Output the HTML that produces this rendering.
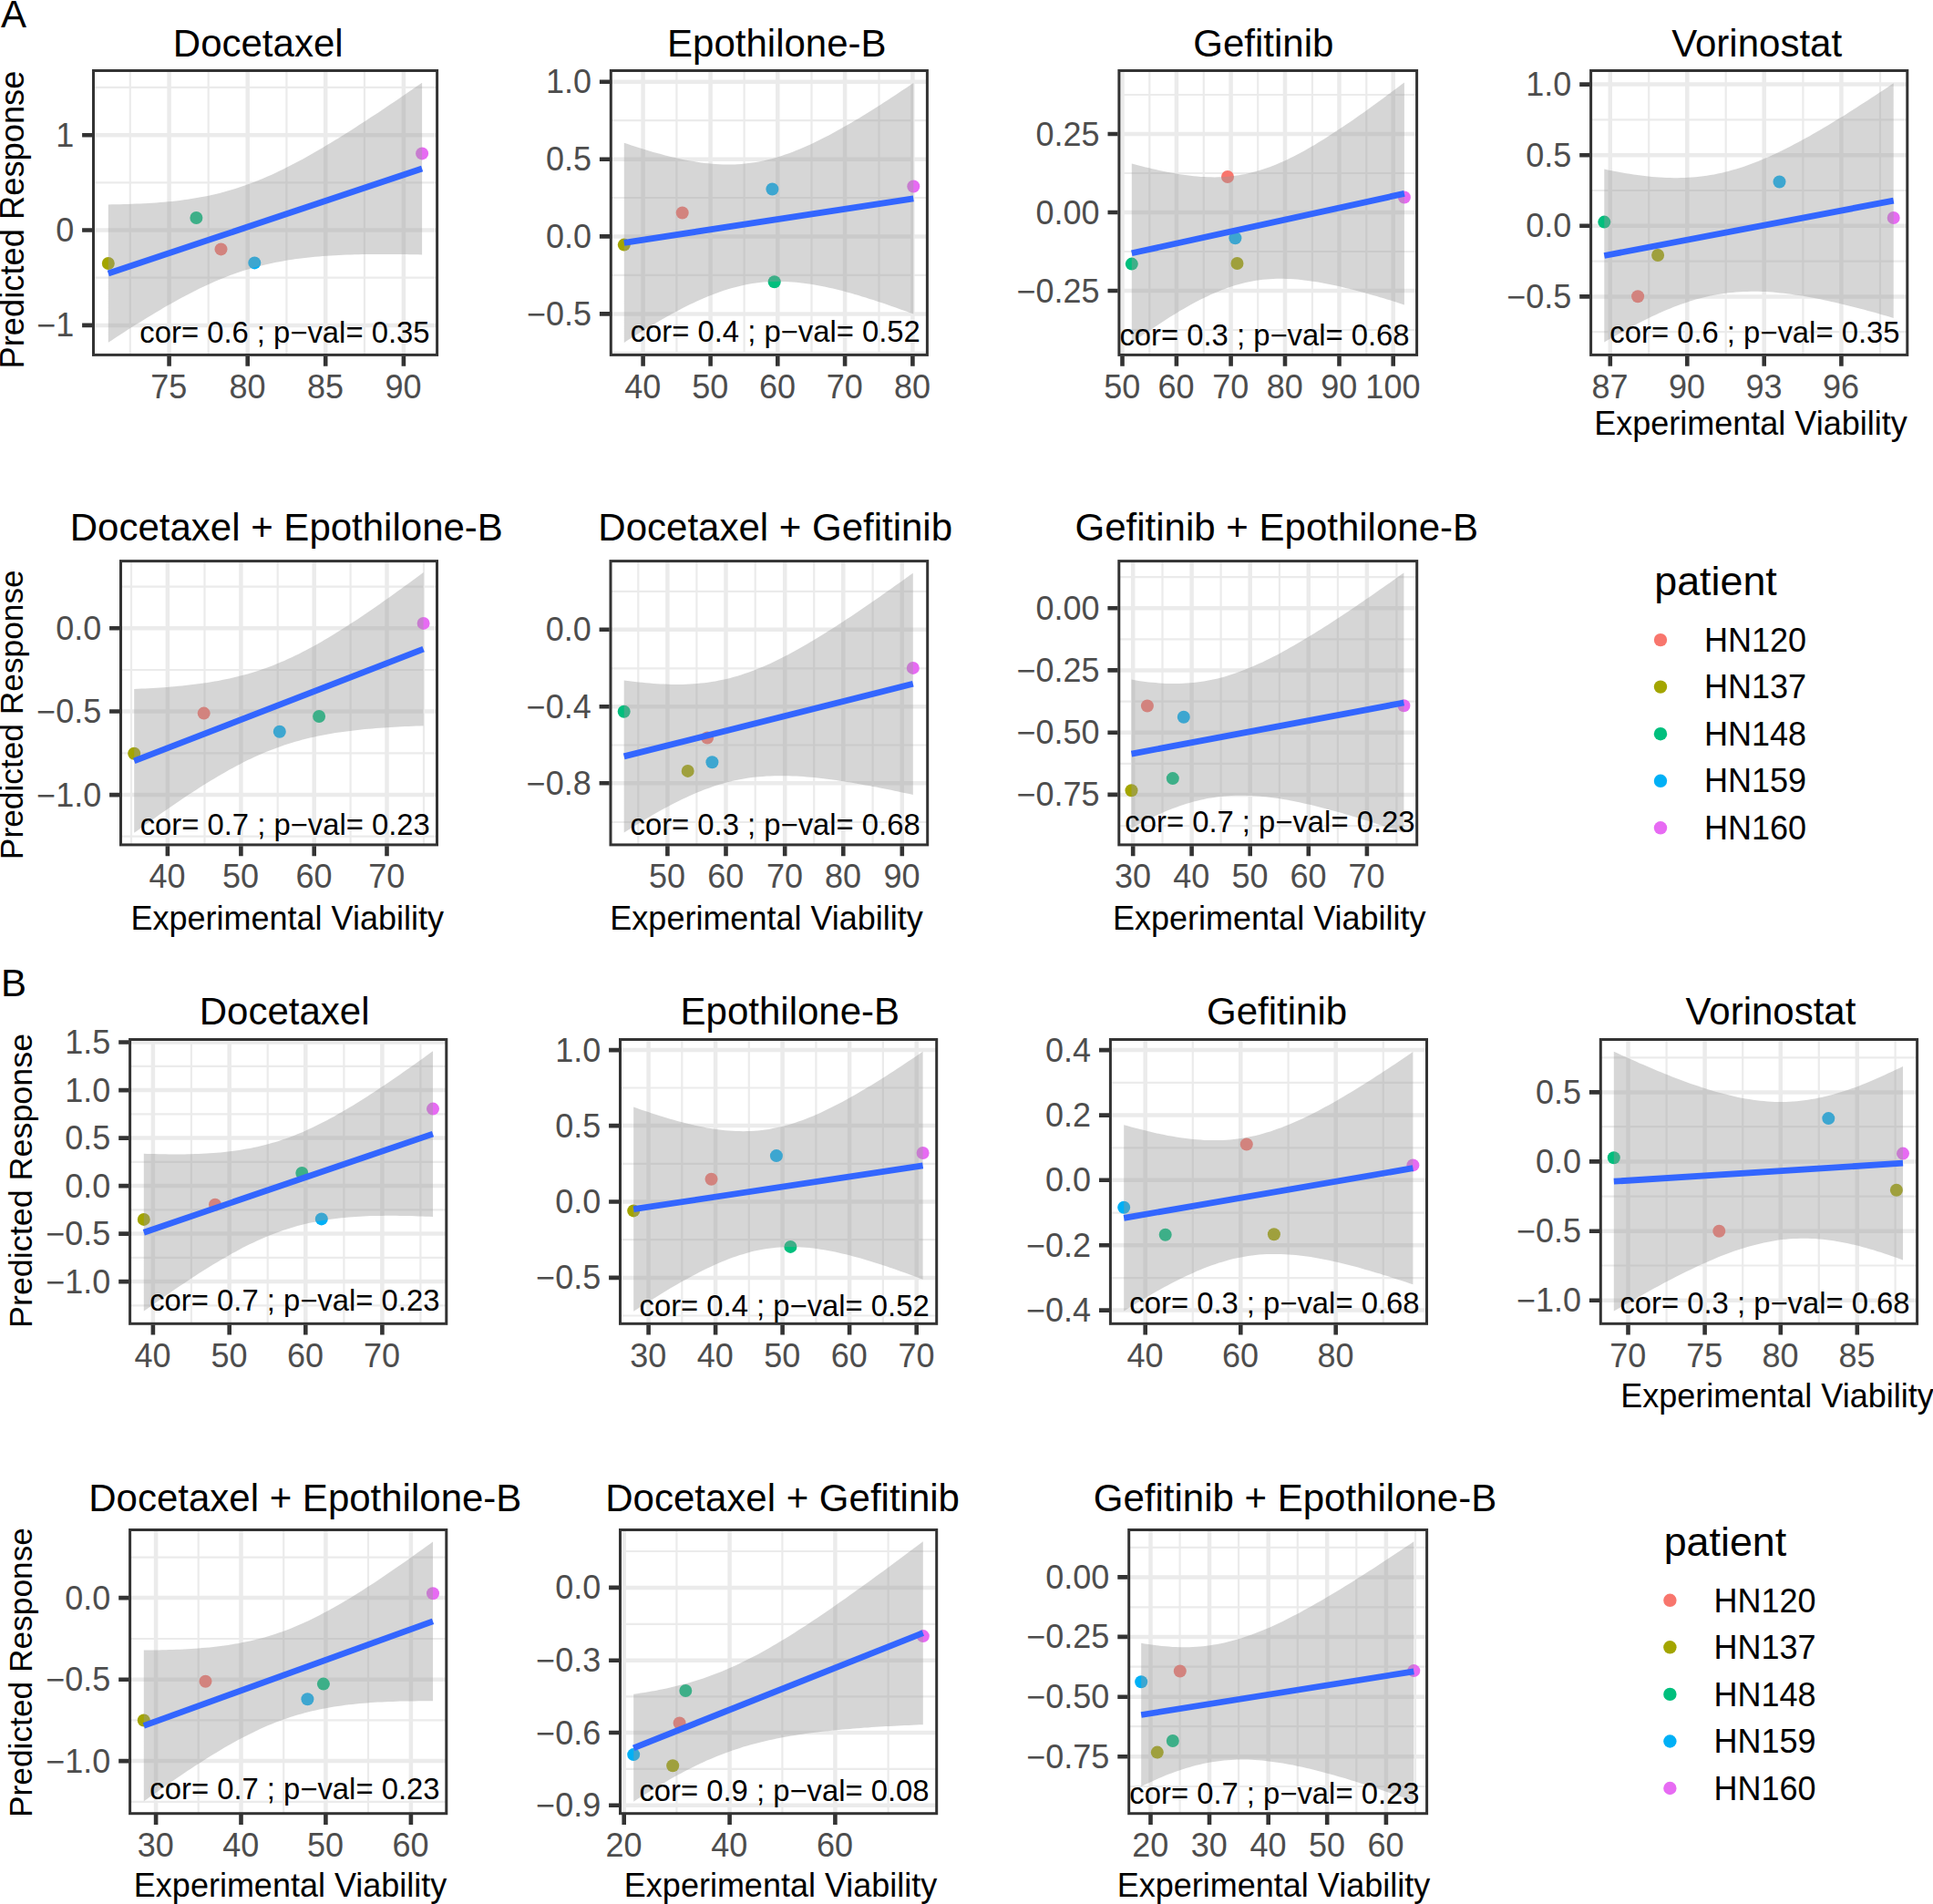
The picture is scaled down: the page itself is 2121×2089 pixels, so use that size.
<!DOCTYPE html><html><head><meta charset="utf-8"><title>Figure</title><style>html,body{margin:0;padding:0;background:#fff}svg{display:block}</style></head><body><svg width="2121" height="2089" viewBox="0 0 2121 2089" font-family="'Liberation Sans', sans-serif">
<rect width="2121" height="2089" fill="#fff"/>
<clipPath id="c0"><rect x="102.5" y="77.5" width="377.1" height="311.9"/></clipPath>
<g clip-path="url(#c0)"><path d="M142.8 77.5V389.4M228.7 77.5V389.4M314.4 77.5V389.4M399.9 77.5V389.4M102.5 95.9H479.6M102.5 200.3H479.6M102.5 304.7H479.6" stroke="#ebebeb" stroke-width="2.2" fill="none"/><path d="M185.6 77.5V389.4M271.7 77.5V389.4M357.2 77.5V389.4M442.9 77.5V389.4M102.5 148.2H479.6M102.5 252.5H479.6M102.5 356.9H479.6" stroke="#ebebeb" stroke-width="4.5" fill="none"/><circle cx="118.8" cy="289.0" r="7" fill="#A3A500"/><circle cx="215.4" cy="239.0" r="7" fill="#00BF7D"/><circle cx="242.5" cy="273.4" r="7" fill="#F8766D"/><circle cx="279.3" cy="288.4" r="7" fill="#00B0F6"/><circle cx="463.1" cy="168.4" r="7" fill="#E76BF3"/><path d="M118.8 224.4 L123.2 224.3 L127.5 224.2 L131.9 224.2 L136.2 224.1 L140.6 223.9 L144.9 223.8 L149.3 223.6 L153.7 223.4 L158.0 223.2 L162.4 223.0 L166.7 222.7 L171.1 222.4 L175.5 222.1 L179.8 221.7 L184.2 221.3 L188.5 220.9 L192.9 220.4 L197.2 219.9 L201.6 219.3 L206.0 218.7 L210.3 218.0 L214.7 217.3 L219.0 216.6 L223.4 215.7 L227.8 214.9 L232.1 213.9 L236.5 212.9 L240.8 211.9 L245.2 210.7 L249.5 209.5 L253.9 208.3 L258.3 206.9 L262.6 205.5 L267.0 204.1 L271.3 202.5 L275.7 200.9 L280.1 199.2 L284.4 197.5 L288.8 195.7 L293.1 193.8 L297.5 191.9 L301.8 189.9 L306.2 187.8 L310.6 185.7 L314.9 183.5 L319.3 181.3 L323.6 179.0 L328.0 176.7 L332.4 174.4 L336.7 172.0 L341.1 169.5 L345.4 167.0 L349.8 164.5 L354.1 161.9 L358.5 159.3 L362.9 156.7 L367.2 154.1 L371.6 151.4 L375.9 148.7 L380.3 146.0 L384.7 143.2 L389.0 140.4 L393.4 137.6 L397.7 134.8 L402.1 132.0 L406.4 129.1 L410.8 126.3 L415.2 123.4 L419.5 120.5 L423.9 117.6 L428.2 114.6 L432.6 111.7 L437.0 108.7 L441.3 105.8 L445.7 102.8 L450.0 99.8 L454.4 96.8 L458.7 93.8 L463.1 90.8 L463.1 279.4 L458.7 279.3 L454.4 279.3 L450.0 279.2 L445.7 279.1 L441.3 279.0 L437.0 279.0 L432.6 278.9 L428.2 278.9 L423.9 278.9 L419.5 278.9 L415.2 278.9 L410.8 278.9 L406.4 279.0 L402.1 279.0 L397.7 279.1 L393.4 279.2 L389.0 279.3 L384.7 279.4 L380.3 279.6 L375.9 279.8 L371.6 280.0 L367.2 280.2 L362.9 280.4 L358.5 280.7 L354.1 281.0 L349.8 281.4 L345.4 281.8 L341.1 282.2 L336.7 282.7 L332.4 283.2 L328.0 283.7 L323.6 284.3 L319.3 284.9 L314.9 285.6 L310.6 286.4 L306.2 287.2 L301.8 288.0 L297.5 288.9 L293.1 289.9 L288.8 290.9 L284.4 292.0 L280.1 293.2 L275.7 294.4 L271.3 295.7 L267.0 297.1 L262.6 298.6 L258.3 300.1 L253.9 301.6 L249.5 303.3 L245.2 305.0 L240.8 306.8 L236.5 308.6 L232.1 310.5 L227.8 312.5 L223.4 314.5 L219.0 316.6 L214.7 318.8 L210.3 321.0 L206.0 323.2 L201.6 325.5 L197.2 327.8 L192.9 330.2 L188.5 332.7 L184.2 335.1 L179.8 337.6 L175.5 340.2 L171.1 342.8 L166.7 345.4 L162.4 348.0 L158.0 350.7 L153.7 353.4 L149.3 356.1 L144.9 358.8 L140.6 361.6 L136.2 364.4 L131.9 367.2 L127.5 370.0 L123.2 372.9 L118.8 375.7Z" fill="#999" fill-opacity="0.4"/><path d="M118.8 300.0L463.1 185.1" stroke="#3366FF" stroke-width="6.8" fill="none"/></g>
<text x="471.5" y="375.8" font-size="32.8" text-anchor="end" fill="#000">cor= 0.6 ; p−val= 0.35</text>
<rect x="102.5" y="77.5" width="377.1" height="311.9" fill="none" stroke="#333" stroke-width="3"/>
<path d="M185.6 390.7V401.7M271.7 390.7V401.7M357.2 390.7V401.7M442.9 390.7V401.7M101.2 148.2H90.1M101.2 252.5H90.1M101.2 356.9H90.1" stroke="#333" stroke-width="4.6" fill="none"/>
<text x="185.3" y="436.6" font-size="36" text-anchor="middle" fill="#4d4d4d">75</text>
<text x="271.4" y="436.6" font-size="36" text-anchor="middle" fill="#4d4d4d">80</text>
<text x="356.9" y="436.6" font-size="36" text-anchor="middle" fill="#4d4d4d">85</text>
<text x="442.6" y="436.6" font-size="36" text-anchor="middle" fill="#4d4d4d">90</text>
<text x="81.2" y="160.7" font-size="36" text-anchor="end" fill="#4d4d4d">1</text>
<text x="81.2" y="265.0" font-size="36" text-anchor="end" fill="#4d4d4d">0</text>
<text x="81.2" y="369.4" font-size="36" text-anchor="end" fill="#4d4d4d">−1</text>
<text x="283.2" y="62" font-size="42.0" text-anchor="middle" fill="#000">Docetaxel</text>
<clipPath id="c1"><rect x="670.3" y="77.5" width="347.1" height="311.9"/></clipPath>
<g clip-path="url(#c1)"><path d="M742.4 77.5V389.4M816.6 77.5V389.4M890.5 77.5V389.4M964.5 77.5V389.4M670.3 132.2H1017.4M670.3 217.0H1017.4M670.3 301.9H1017.4M670.3 386.8H1017.4" stroke="#ebebeb" stroke-width="2.2" fill="none"/><path d="M705.6 77.5V389.4M779.6 77.5V389.4M853.3 77.5V389.4M927.1 77.5V389.4M1001.4 77.5V389.4M670.3 89.7H1017.4M670.3 174.7H1017.4M670.3 259.4H1017.4M670.3 344.4H1017.4" stroke="#ebebeb" stroke-width="4.5" fill="none"/><circle cx="684.8" cy="268.6" r="7" fill="#A3A500"/><circle cx="748.7" cy="233.5" r="7" fill="#F8766D"/><circle cx="847.4" cy="207.5" r="7" fill="#00B0F6"/><circle cx="849.7" cy="309.2" r="7" fill="#00BF7D"/><circle cx="1002.3" cy="204.5" r="7" fill="#E76BF3"/><path d="M684.8 156.8 L688.8 158.1 L692.8 159.5 L696.9 160.8 L700.9 162.0 L704.9 163.3 L708.9 164.5 L712.9 165.7 L717.0 166.9 L721.0 168.0 L725.0 169.1 L729.0 170.2 L733.0 171.2 L737.0 172.2 L741.1 173.1 L745.1 174.0 L749.1 174.9 L753.1 175.7 L757.1 176.4 L761.2 177.1 L765.2 177.8 L769.2 178.4 L773.2 178.9 L777.2 179.3 L781.3 179.7 L785.3 180.0 L789.3 180.2 L793.3 180.4 L797.3 180.5 L801.4 180.5 L805.4 180.4 L809.4 180.2 L813.4 179.9 L817.4 179.6 L821.4 179.1 L825.5 178.6 L829.5 177.9 L833.5 177.2 L837.5 176.4 L841.5 175.5 L845.6 174.5 L849.6 173.4 L853.6 172.2 L857.6 171.0 L861.6 169.6 L865.7 168.2 L869.7 166.7 L873.7 165.1 L877.7 163.5 L881.7 161.8 L885.7 160.0 L889.8 158.2 L893.8 156.3 L897.8 154.3 L901.8 152.3 L905.8 150.3 L909.9 148.2 L913.9 146.0 L917.9 143.8 L921.9 141.6 L925.9 139.3 L930.0 137.0 L934.0 134.7 L938.0 132.3 L942.0 129.9 L946.0 127.5 L950.1 125.0 L954.1 122.5 L958.1 120.0 L962.1 117.5 L966.1 114.9 L970.1 112.3 L974.2 109.7 L978.2 107.1 L982.2 104.5 L986.2 101.8 L990.2 99.1 L994.3 96.4 L998.3 93.7 L1002.3 91.0 L1002.3 344.6 L998.3 343.1 L994.3 341.6 L990.2 340.2 L986.2 338.7 L982.2 337.3 L978.2 335.9 L974.2 334.5 L970.1 333.1 L966.1 331.8 L962.1 330.4 L958.1 329.1 L954.1 327.9 L950.1 326.6 L946.0 325.4 L942.0 324.1 L938.0 323.0 L934.0 321.8 L930.0 320.7 L925.9 319.6 L921.9 318.6 L917.9 317.6 L913.9 316.6 L909.9 315.7 L905.8 314.8 L901.8 314.0 L897.8 313.2 L893.8 312.5 L889.8 311.8 L885.7 311.2 L881.7 310.7 L877.7 310.2 L873.7 309.8 L869.7 309.4 L865.7 309.2 L861.6 309.0 L857.6 308.9 L853.6 308.8 L849.6 308.9 L845.6 309.0 L841.5 309.3 L837.5 309.6 L833.5 310.0 L829.5 310.5 L825.5 311.1 L821.4 311.8 L817.4 312.6 L813.4 313.4 L809.4 314.4 L805.4 315.4 L801.4 316.6 L797.3 317.8 L793.3 319.1 L789.3 320.5 L785.3 321.9 L781.3 323.5 L777.2 325.1 L773.2 326.8 L769.2 328.5 L765.2 330.3 L761.2 332.2 L757.1 334.1 L753.1 336.1 L749.1 338.1 L745.1 340.2 L741.1 342.3 L737.0 344.5 L733.0 346.7 L729.0 349.0 L725.0 351.3 L721.0 353.6 L717.0 356.0 L712.9 358.3 L708.9 360.8 L704.9 363.2 L700.9 365.7 L696.9 368.2 L692.8 370.7 L688.8 373.3 L684.8 375.9Z" fill="#999" fill-opacity="0.4"/><path d="M684.8 266.3L1002.3 217.8" stroke="#3366FF" stroke-width="6.8" fill="none"/></g>
<text x="1009.8" y="374.7" font-size="32.8" text-anchor="end" fill="#000">cor= 0.4 ; p−val= 0.52</text>
<rect x="670.3" y="77.5" width="347.1" height="311.9" fill="none" stroke="#333" stroke-width="3"/>
<path d="M705.6 390.7V401.7M779.6 390.7V401.7M853.3 390.7V401.7M927.1 390.7V401.7M1001.4 390.7V401.7M669.0 89.7H657.9M669.0 174.7H657.9M669.0 259.4H657.9M669.0 344.4H657.9" stroke="#333" stroke-width="4.6" fill="none"/>
<text x="705.3" y="436.6" font-size="36" text-anchor="middle" fill="#4d4d4d">40</text>
<text x="779.3" y="436.6" font-size="36" text-anchor="middle" fill="#4d4d4d">50</text>
<text x="853.0" y="436.6" font-size="36" text-anchor="middle" fill="#4d4d4d">60</text>
<text x="926.8" y="436.6" font-size="36" text-anchor="middle" fill="#4d4d4d">70</text>
<text x="1001.1" y="436.6" font-size="36" text-anchor="middle" fill="#4d4d4d">80</text>
<text x="649.0" y="102.2" font-size="36" text-anchor="end" fill="#4d4d4d">1.0</text>
<text x="649.0" y="187.2" font-size="36" text-anchor="end" fill="#4d4d4d">0.5</text>
<text x="649.0" y="271.9" font-size="36" text-anchor="end" fill="#4d4d4d">0.0</text>
<text x="649.0" y="356.9" font-size="36" text-anchor="end" fill="#4d4d4d">−0.5</text>
<text x="852.3" y="62" font-size="42.0" text-anchor="middle" fill="#000">Epothilone-B</text>
<clipPath id="c2"><rect x="1227.9" y="77.5" width="326.7" height="311.9"/></clipPath>
<g clip-path="url(#c2)"><path d="M1261.3 77.5V389.4M1320.8 77.5V389.4M1380.2 77.5V389.4M1439.9 77.5V389.4M1499.3 77.5V389.4M1227.9 104.0H1554.6M1227.9 190.0H1554.6M1227.9 276.0H1554.6M1227.9 362.0H1554.6" stroke="#ebebeb" stroke-width="2.2" fill="none"/><path d="M1231.5 77.5V389.4M1290.9 77.5V389.4M1350.6 77.5V389.4M1410.0 77.5V389.4M1469.5 77.5V389.4M1528.7 77.5V389.4M1227.9 147.0H1554.6M1227.9 233.0H1554.6M1227.9 319.0H1554.6" stroke="#ebebeb" stroke-width="4.5" fill="none"/><circle cx="1241.8" cy="289.6" r="7" fill="#00BF7D"/><circle cx="1347.0" cy="194.0" r="7" fill="#F8766D"/><circle cx="1355.4" cy="261.3" r="7" fill="#00B0F6"/><circle cx="1357.5" cy="289.0" r="7" fill="#A3A500"/><circle cx="1540.9" cy="216.5" r="7" fill="#E76BF3"/><path d="M1241.8 179.4 L1245.6 180.5 L1249.4 181.5 L1253.2 182.4 L1256.9 183.4 L1260.7 184.3 L1264.5 185.2 L1268.3 186.1 L1272.1 186.9 L1275.9 187.7 L1279.7 188.5 L1283.4 189.3 L1287.2 190.0 L1291.0 190.6 L1294.8 191.2 L1298.6 191.8 L1302.4 192.3 L1306.2 192.8 L1309.9 193.2 L1313.7 193.6 L1317.5 193.9 L1321.3 194.1 L1325.1 194.2 L1328.9 194.3 L1332.7 194.4 L1336.5 194.3 L1340.2 194.2 L1344.0 194.0 L1347.8 193.7 L1351.6 193.3 L1355.4 192.8 L1359.2 192.3 L1363.0 191.6 L1366.7 190.9 L1370.5 190.1 L1374.3 189.1 L1378.1 188.1 L1381.9 187.0 L1385.7 185.8 L1389.5 184.6 L1393.2 183.2 L1397.0 181.7 L1400.8 180.2 L1404.6 178.6 L1408.4 176.9 L1412.2 175.2 L1416.0 173.3 L1419.7 171.5 L1423.5 169.5 L1427.3 167.5 L1431.1 165.4 L1434.9 163.3 L1438.7 161.1 L1442.5 158.9 L1446.2 156.6 L1450.0 154.3 L1453.8 151.9 L1457.6 149.5 L1461.4 147.1 L1465.2 144.6 L1469.0 142.1 L1472.8 139.6 L1476.5 137.1 L1480.3 134.5 L1484.1 131.9 L1487.9 129.2 L1491.7 126.6 L1495.5 123.9 L1499.3 121.2 L1503.0 118.5 L1506.8 115.8 L1510.6 113.0 L1514.4 110.2 L1518.2 107.4 L1522.0 104.6 L1525.8 101.8 L1529.5 99.0 L1533.3 96.2 L1537.1 93.3 L1540.9 90.5 L1540.9 334.4 L1537.1 333.2 L1533.3 332.0 L1529.5 330.8 L1525.8 329.6 L1522.0 328.5 L1518.2 327.3 L1514.4 326.2 L1510.6 325.1 L1506.8 324.0 L1503.0 322.9 L1499.3 321.8 L1495.5 320.8 L1491.7 319.8 L1487.9 318.8 L1484.1 317.8 L1480.3 316.8 L1476.5 315.9 L1472.8 315.0 L1469.0 314.1 L1465.2 313.3 L1461.4 312.5 L1457.6 311.7 L1453.8 311.0 L1450.0 310.2 L1446.2 309.6 L1442.5 309.0 L1438.7 308.4 L1434.9 307.9 L1431.1 307.4 L1427.3 307.0 L1423.5 306.6 L1419.7 306.3 L1416.0 306.1 L1412.2 305.9 L1408.4 305.8 L1404.6 305.8 L1400.8 305.8 L1397.0 306.0 L1393.2 306.2 L1389.5 306.5 L1385.7 306.8 L1381.9 307.3 L1378.1 307.8 L1374.3 308.5 L1370.5 309.2 L1366.7 310.0 L1363.0 311.0 L1359.2 312.0 L1355.4 313.1 L1351.6 314.2 L1347.8 315.5 L1344.0 316.9 L1340.2 318.3 L1336.5 319.9 L1332.7 321.5 L1328.9 323.1 L1325.1 324.9 L1321.3 326.7 L1317.5 328.6 L1313.7 330.5 L1309.9 332.6 L1306.2 334.6 L1302.4 336.7 L1298.6 338.9 L1294.8 341.1 L1291.0 343.4 L1287.2 345.7 L1283.4 348.1 L1279.7 350.5 L1275.9 352.9 L1272.1 355.4 L1268.3 357.9 L1264.5 360.4 L1260.7 362.9 L1256.9 365.5 L1253.2 368.1 L1249.4 370.8 L1245.6 373.4 L1241.8 376.1Z" fill="#999" fill-opacity="0.4"/><path d="M1241.8 277.8L1540.9 212.4" stroke="#3366FF" stroke-width="6.8" fill="none"/></g>
<text x="1546.6" y="378.5" font-size="32.8" text-anchor="end" fill="#000">cor= 0.3 ; p−val= 0.68</text>
<rect x="1227.9" y="77.5" width="326.7" height="311.9" fill="none" stroke="#333" stroke-width="3"/>
<path d="M1231.5 390.7V401.7M1290.9 390.7V401.7M1350.6 390.7V401.7M1410.0 390.7V401.7M1469.5 390.7V401.7M1528.7 390.7V401.7M1226.6000000000001 147.0H1215.5M1226.6000000000001 233.0H1215.5M1226.6000000000001 319.0H1215.5" stroke="#333" stroke-width="4.6" fill="none"/>
<text x="1231.2" y="436.6" font-size="36" text-anchor="middle" fill="#4d4d4d">50</text>
<text x="1290.6" y="436.6" font-size="36" text-anchor="middle" fill="#4d4d4d">60</text>
<text x="1350.3" y="436.6" font-size="36" text-anchor="middle" fill="#4d4d4d">70</text>
<text x="1409.7" y="436.6" font-size="36" text-anchor="middle" fill="#4d4d4d">80</text>
<text x="1469.2" y="436.6" font-size="36" text-anchor="middle" fill="#4d4d4d">90</text>
<text x="1528.4" y="436.6" font-size="36" text-anchor="middle" fill="#4d4d4d">100</text>
<text x="1206.6" y="159.5" font-size="36" text-anchor="end" fill="#4d4d4d">0.25</text>
<text x="1206.6" y="245.5" font-size="36" text-anchor="end" fill="#4d4d4d">0.00</text>
<text x="1206.6" y="331.5" font-size="36" text-anchor="end" fill="#4d4d4d">−0.25</text>
<text x="1386.3" y="62" font-size="42.0" text-anchor="middle" fill="#000">Gefitinib</text>
<clipPath id="c3"><rect x="1745.6" y="77.5" width="347.2" height="311.9"/></clipPath>
<g clip-path="url(#c3)"><path d="M1809.2 77.5V389.4M1893.7 77.5V389.4M1978.4 77.5V389.4M2063.0 77.5V389.4M1745.6 131.4H2092.8M1745.6 209.0H2092.8M1745.6 286.6H2092.8M1745.6 364.2H2092.8" stroke="#ebebeb" stroke-width="2.2" fill="none"/><path d="M1766.8 77.5V389.4M1851.3 77.5V389.4M1935.7 77.5V389.4M2020.4 77.5V389.4M1745.6 92.6H2092.8M1745.6 170.2H2092.8M1745.6 247.8H2092.8M1745.6 325.4H2092.8" stroke="#ebebeb" stroke-width="4.5" fill="none"/><circle cx="1760.3" cy="243.6" r="7" fill="#00BF7D"/><circle cx="1797.1" cy="325.3" r="7" fill="#F8766D"/><circle cx="1819.1" cy="280.0" r="7" fill="#A3A500"/><circle cx="1952.5" cy="199.5" r="7" fill="#00B0F6"/><circle cx="2077.7" cy="239.0" r="7" fill="#E76BF3"/><path d="M1760.3 185.6 L1764.3 186.4 L1768.3 187.2 L1772.4 188.0 L1776.4 188.8 L1780.4 189.5 L1784.4 190.2 L1788.4 190.8 L1792.4 191.4 L1796.5 192.0 L1800.5 192.6 L1804.5 193.1 L1808.5 193.5 L1812.5 193.9 L1816.5 194.3 L1820.6 194.6 L1824.6 194.8 L1828.6 195.0 L1832.6 195.1 L1836.6 195.2 L1840.7 195.2 L1844.7 195.1 L1848.7 195.0 L1852.7 194.8 L1856.7 194.5 L1860.7 194.2 L1864.8 193.8 L1868.8 193.3 L1872.8 192.7 L1876.8 192.1 L1880.8 191.4 L1884.8 190.6 L1888.9 189.7 L1892.9 188.8 L1896.9 187.7 L1900.9 186.6 L1904.9 185.5 L1909.0 184.2 L1913.0 182.9 L1917.0 181.5 L1921.0 180.1 L1925.0 178.5 L1929.0 177.0 L1933.1 175.3 L1937.1 173.6 L1941.1 171.9 L1945.1 170.0 L1949.1 168.2 L1953.2 166.3 L1957.2 164.3 L1961.2 162.3 L1965.2 160.2 L1969.2 158.1 L1973.2 156.0 L1977.3 153.8 L1981.3 151.6 L1985.3 149.4 L1989.3 147.1 L1993.3 144.8 L1997.3 142.4 L2001.4 140.1 L2005.4 137.7 L2009.4 135.3 L2013.4 132.8 L2017.4 130.3 L2021.5 127.9 L2025.5 125.4 L2029.5 122.8 L2033.5 120.3 L2037.5 117.7 L2041.5 115.1 L2045.6 112.6 L2049.6 109.9 L2053.6 107.3 L2057.6 104.7 L2061.6 102.0 L2065.6 99.4 L2069.7 96.7 L2073.7 94.0 L2077.7 91.3 L2077.7 348.9 L2073.7 347.7 L2069.7 346.5 L2065.6 345.4 L2061.6 344.2 L2057.6 343.1 L2053.6 342.0 L2049.6 340.9 L2045.6 339.8 L2041.5 338.8 L2037.5 337.7 L2033.5 336.7 L2029.5 335.7 L2025.5 334.7 L2021.5 333.7 L2017.4 332.8 L2013.4 331.8 L2009.4 330.9 L2005.4 330.0 L2001.4 329.2 L1997.3 328.3 L1993.3 327.5 L1989.3 326.8 L1985.3 326.0 L1981.3 325.3 L1977.3 324.6 L1973.2 324.0 L1969.2 323.4 L1965.2 322.8 L1961.2 322.3 L1957.2 321.8 L1953.2 321.4 L1949.1 321.0 L1945.1 320.6 L1941.1 320.3 L1937.1 320.1 L1933.1 319.9 L1929.0 319.8 L1925.0 319.8 L1921.0 319.8 L1917.0 319.9 L1913.0 320.0 L1909.0 320.2 L1904.9 320.5 L1900.9 320.9 L1896.9 321.3 L1892.9 321.8 L1888.9 322.4 L1884.8 323.0 L1880.8 323.8 L1876.8 324.6 L1872.8 325.5 L1868.8 326.4 L1864.8 327.5 L1860.7 328.6 L1856.7 329.8 L1852.7 331.1 L1848.7 332.4 L1844.7 333.8 L1840.7 335.3 L1836.6 336.8 L1832.6 338.4 L1828.6 340.1 L1824.6 341.8 L1820.6 343.6 L1816.5 345.4 L1812.5 347.3 L1808.5 349.2 L1804.5 351.2 L1800.5 353.2 L1796.5 355.3 L1792.4 357.4 L1788.4 359.5 L1784.4 361.7 L1780.4 363.9 L1776.4 366.2 L1772.4 368.5 L1768.3 370.8 L1764.3 373.1 L1760.3 375.5Z" fill="#999" fill-opacity="0.4"/><path d="M1760.3 280.5L2077.7 220.1" stroke="#3366FF" stroke-width="6.8" fill="none"/></g>
<text x="2084.5" y="375.5" font-size="32.8" text-anchor="end" fill="#000">cor= 0.6 ; p−val= 0.35</text>
<rect x="1745.6" y="77.5" width="347.2" height="311.9" fill="none" stroke="#333" stroke-width="3"/>
<path d="M1766.8 390.7V401.7M1851.3 390.7V401.7M1935.7 390.7V401.7M2020.4 390.7V401.7M1744.3 92.6H1733.1999999999998M1744.3 170.2H1733.1999999999998M1744.3 247.8H1733.1999999999998M1744.3 325.4H1733.1999999999998" stroke="#333" stroke-width="4.6" fill="none"/>
<text x="1766.5" y="436.6" font-size="36" text-anchor="middle" fill="#4d4d4d">87</text>
<text x="1851.0" y="436.6" font-size="36" text-anchor="middle" fill="#4d4d4d">90</text>
<text x="1935.4" y="436.6" font-size="36" text-anchor="middle" fill="#4d4d4d">93</text>
<text x="2020.1" y="436.6" font-size="36" text-anchor="middle" fill="#4d4d4d">96</text>
<text x="1724.3" y="105.1" font-size="36" text-anchor="end" fill="#4d4d4d">1.0</text>
<text x="1724.3" y="182.7" font-size="36" text-anchor="end" fill="#4d4d4d">0.5</text>
<text x="1724.3" y="260.3" font-size="36" text-anchor="end" fill="#4d4d4d">0.0</text>
<text x="1724.3" y="337.9" font-size="36" text-anchor="end" fill="#4d4d4d">−0.5</text>
<text x="1927.7" y="62" font-size="42.0" text-anchor="middle" fill="#000">Vorinostat</text>
<text x="1921" y="476.6" font-size="36" text-anchor="middle" fill="#000">Experimental Viability</text>
<clipPath id="c4"><rect x="132.5" y="615.6" width="347.0" height="311.3"/></clipPath>
<g clip-path="url(#c4)"><path d="M144.0 615.6V926.9M224.5 615.6V926.9M304.7 615.6V926.9M384.6 615.6V926.9M465.0 615.6V926.9M132.5 643.6H479.5M132.5 735.0H479.5M132.5 826.3H479.5M132.5 917.7H479.5" stroke="#ebebeb" stroke-width="2.2" fill="none"/><path d="M183.9 615.6V926.9M264.4 615.6V926.9M344.7 615.6V926.9M424.5 615.6V926.9M132.5 689.2H479.5M132.5 780.5H479.5M132.5 872.1H479.5" stroke="#ebebeb" stroke-width="4.5" fill="none"/><circle cx="147.2" cy="826.8" r="7" fill="#A3A500"/><circle cx="223.7" cy="782.6" r="7" fill="#F8766D"/><circle cx="306.8" cy="802.8" r="7" fill="#00B0F6"/><circle cx="350.1" cy="786.0" r="7" fill="#00BF7D"/><circle cx="464.6" cy="683.9" r="7" fill="#E76BF3"/><path d="M147.2 756.0 L151.2 755.8 L155.2 755.6 L159.3 755.4 L163.3 755.2 L167.3 755.0 L171.3 754.7 L175.3 754.5 L179.3 754.2 L183.4 753.9 L187.4 753.6 L191.4 753.2 L195.4 752.8 L199.4 752.4 L203.4 752.0 L207.5 751.6 L211.5 751.1 L215.5 750.6 L219.5 750.1 L223.5 749.5 L227.6 748.9 L231.6 748.3 L235.6 747.6 L239.6 746.9 L243.6 746.1 L247.6 745.3 L251.7 744.4 L255.7 743.5 L259.7 742.6 L263.7 741.6 L267.7 740.5 L271.7 739.4 L275.8 738.2 L279.8 737.0 L283.8 735.7 L287.8 734.3 L291.8 732.9 L295.9 731.4 L299.9 729.9 L303.9 728.3 L307.9 726.6 L311.9 724.9 L315.9 723.1 L320.0 721.2 L324.0 719.3 L328.0 717.4 L332.0 715.3 L336.0 713.2 L340.1 711.1 L344.1 708.9 L348.1 706.7 L352.1 704.4 L356.1 702.1 L360.1 699.7 L364.2 697.3 L368.2 694.8 L372.2 692.3 L376.2 689.8 L380.2 687.2 L384.2 684.6 L388.3 682.0 L392.3 679.4 L396.3 676.7 L400.3 674.0 L404.3 671.2 L408.4 668.5 L412.4 665.7 L416.4 662.9 L420.4 660.1 L424.4 657.3 L428.4 654.4 L432.5 651.5 L436.5 648.6 L440.5 645.7 L444.5 642.8 L448.5 639.9 L452.5 637.0 L456.6 634.0 L460.6 631.0 L464.6 628.1 L464.6 796.3 L460.6 796.4 L456.6 796.6 L452.5 796.7 L448.5 796.9 L444.5 797.1 L440.5 797.3 L436.5 797.5 L432.5 797.7 L428.4 797.9 L424.4 798.2 L420.4 798.5 L416.4 798.8 L412.4 799.1 L408.4 799.4 L404.3 799.7 L400.3 800.1 L396.3 800.5 L392.3 800.9 L388.3 801.4 L384.2 801.9 L380.2 802.4 L376.2 802.9 L372.2 803.5 L368.2 804.1 L364.2 804.8 L360.1 805.5 L356.1 806.2 L352.1 807.0 L348.1 807.8 L344.1 808.7 L340.1 809.6 L336.0 810.6 L332.0 811.6 L328.0 812.7 L324.0 813.8 L320.0 815.0 L315.9 816.2 L311.9 817.6 L307.9 818.9 L303.9 820.4 L299.9 821.9 L295.9 823.4 L291.8 825.1 L287.8 826.7 L283.8 828.5 L279.8 830.3 L275.8 832.2 L271.7 834.1 L267.7 836.1 L263.7 838.2 L259.7 840.3 L255.7 842.4 L251.7 844.6 L247.6 846.9 L243.6 849.2 L239.6 851.5 L235.6 853.9 L231.6 856.3 L227.6 858.8 L223.5 861.3 L219.5 863.8 L215.5 866.4 L211.5 869.0 L207.5 871.6 L203.4 874.3 L199.4 877.0 L195.4 879.7 L191.4 882.4 L187.4 885.2 L183.4 888.0 L179.3 890.8 L175.3 893.6 L171.3 896.5 L167.3 899.3 L163.3 902.2 L159.3 905.1 L155.2 908.0 L151.2 910.9 L147.2 913.8Z" fill="#999" fill-opacity="0.4"/><path d="M147.2 834.9L464.6 712.2" stroke="#3366FF" stroke-width="6.8" fill="none"/></g>
<text x="471.8" y="916.1" font-size="32.8" text-anchor="end" fill="#000">cor= 0.7 ; p−val= 0.23</text>
<rect x="132.5" y="615.6" width="347.0" height="311.3" fill="none" stroke="#333" stroke-width="3"/>
<path d="M183.9 928.1999999999999V939.1999999999999M264.4 928.1999999999999V939.1999999999999M344.7 928.1999999999999V939.1999999999999M424.5 928.1999999999999V939.1999999999999M131.2 689.2H120.1M131.2 780.5H120.1M131.2 872.1H120.1" stroke="#333" stroke-width="4.6" fill="none"/>
<text x="183.6" y="974.1" font-size="36" text-anchor="middle" fill="#4d4d4d">40</text>
<text x="264.1" y="974.1" font-size="36" text-anchor="middle" fill="#4d4d4d">50</text>
<text x="344.4" y="974.1" font-size="36" text-anchor="middle" fill="#4d4d4d">60</text>
<text x="424.2" y="974.1" font-size="36" text-anchor="middle" fill="#4d4d4d">70</text>
<text x="111.2" y="701.7" font-size="36" text-anchor="end" fill="#4d4d4d">0.0</text>
<text x="111.2" y="793.0" font-size="36" text-anchor="end" fill="#4d4d4d">−0.5</text>
<text x="111.2" y="884.6" font-size="36" text-anchor="end" fill="#4d4d4d">−1.0</text>
<text x="314.3" y="593.1" font-size="42.0" text-anchor="middle" fill="#000">Docetaxel + Epothilone-B</text>
<text x="315.2" y="1020.4" font-size="36" text-anchor="middle" fill="#000">Experimental Viability</text>
<clipPath id="c5"><rect x="670" y="615.6" width="347.7" height="311.3"/></clipPath>
<g clip-path="url(#c5)"><path d="M700.3 615.6V926.9M764.4 615.6V926.9M828.7 615.6V926.9M893.2 615.6V926.9M957.6 615.6V926.9M670 648.8H1017.7M670 733.3H1017.7M670 817.5H1017.7M670 902.0H1017.7" stroke="#ebebeb" stroke-width="2.2" fill="none"/><path d="M732.4 615.6V926.9M796.5 615.6V926.9M861.2 615.6V926.9M925.3 615.6V926.9M989.8 615.6V926.9M670 690.8H1017.7M670 775.3H1017.7M670 859.3H1017.7" stroke="#ebebeb" stroke-width="4.5" fill="none"/><circle cx="684.7" cy="780.8" r="7" fill="#00BF7D"/><circle cx="754.7" cy="845.9" r="7" fill="#A3A500"/><circle cx="776.1" cy="809.5" r="7" fill="#F8766D"/><circle cx="781.4" cy="836.2" r="7" fill="#00B0F6"/><circle cx="1001.8" cy="732.9" r="7" fill="#E76BF3"/><path d="M684.7 746.4 L688.7 747.0 L692.7 747.5 L696.7 748.0 L700.8 748.4 L704.8 748.8 L708.8 749.2 L712.8 749.6 L716.8 749.9 L720.8 750.2 L724.8 750.5 L728.9 750.6 L732.9 750.8 L736.9 750.9 L740.9 750.9 L744.9 750.9 L748.9 750.9 L752.9 750.8 L757.0 750.6 L761.0 750.3 L765.0 750.0 L769.0 749.6 L773.0 749.2 L777.0 748.7 L781.0 748.1 L785.0 747.4 L789.1 746.6 L793.1 745.8 L797.1 744.9 L801.1 743.9 L805.1 742.8 L809.1 741.7 L813.1 740.4 L817.2 739.1 L821.2 737.7 L825.2 736.3 L829.2 734.7 L833.2 733.1 L837.2 731.4 L841.2 729.7 L845.3 727.9 L849.3 726.0 L853.3 724.1 L857.3 722.1 L861.3 720.0 L865.3 717.9 L869.3 715.8 L873.4 713.6 L877.4 711.3 L881.4 709.0 L885.4 706.7 L889.4 704.3 L893.4 701.9 L897.4 699.5 L901.5 697.0 L905.5 694.5 L909.5 692.0 L913.5 689.5 L917.5 686.9 L921.5 684.3 L925.5 681.7 L929.5 679.0 L933.6 676.4 L937.6 673.7 L941.6 671.0 L945.6 668.2 L949.6 665.5 L953.6 662.7 L957.6 660.0 L961.7 657.2 L965.7 654.4 L969.7 651.6 L973.7 648.8 L977.7 645.9 L981.7 643.1 L985.7 640.2 L989.8 637.4 L993.8 634.5 L997.8 631.6 L1001.8 628.7 L1001.8 872.0 L997.8 871.1 L993.8 870.2 L989.8 869.4 L985.7 868.5 L981.7 867.7 L977.7 866.8 L973.7 866.0 L969.7 865.2 L965.7 864.4 L961.7 863.6 L957.6 862.9 L953.6 862.1 L949.6 861.4 L945.6 860.7 L941.6 859.9 L937.6 859.3 L933.6 858.6 L929.5 857.9 L925.5 857.3 L921.5 856.7 L917.5 856.1 L913.5 855.5 L909.5 855.0 L905.5 854.5 L901.5 854.0 L897.4 853.6 L893.4 853.1 L889.4 852.8 L885.4 852.4 L881.4 852.1 L877.4 851.8 L873.4 851.6 L869.3 851.4 L865.3 851.3 L861.3 851.2 L857.3 851.2 L853.3 851.2 L849.3 851.3 L845.3 851.4 L841.2 851.6 L837.2 851.9 L833.2 852.2 L829.2 852.6 L825.2 853.1 L821.2 853.6 L817.2 854.3 L813.1 855.0 L809.1 855.7 L805.1 856.6 L801.1 857.5 L797.1 858.6 L793.1 859.7 L789.1 860.8 L785.0 862.1 L781.0 863.4 L777.0 864.9 L773.0 866.3 L769.0 867.9 L765.0 869.5 L761.0 871.2 L757.0 873.0 L752.9 874.9 L748.9 876.7 L744.9 878.7 L740.9 880.7 L736.9 882.8 L732.9 884.9 L728.9 887.1 L724.8 889.3 L720.8 891.5 L716.8 893.8 L712.8 896.2 L708.8 898.5 L704.8 901.0 L700.8 903.4 L696.7 905.9 L692.7 908.4 L688.7 910.9 L684.7 913.5Z" fill="#999" fill-opacity="0.4"/><path d="M684.7 829.9L1001.8 750.3" stroke="#3366FF" stroke-width="6.8" fill="none"/></g>
<text x="1009.7" y="916.3" font-size="32.8" text-anchor="end" fill="#000">cor= 0.3 ; p−val= 0.68</text>
<rect x="670" y="615.6" width="347.7" height="311.3" fill="none" stroke="#333" stroke-width="3"/>
<path d="M732.4 928.1999999999999V939.1999999999999M796.5 928.1999999999999V939.1999999999999M861.2 928.1999999999999V939.1999999999999M925.3 928.1999999999999V939.1999999999999M989.8 928.1999999999999V939.1999999999999M668.7 690.8H657.6M668.7 775.3H657.6M668.7 859.3H657.6" stroke="#333" stroke-width="4.6" fill="none"/>
<text x="732.1" y="974.1" font-size="36" text-anchor="middle" fill="#4d4d4d">50</text>
<text x="796.2" y="974.1" font-size="36" text-anchor="middle" fill="#4d4d4d">60</text>
<text x="860.9" y="974.1" font-size="36" text-anchor="middle" fill="#4d4d4d">70</text>
<text x="925.0" y="974.1" font-size="36" text-anchor="middle" fill="#4d4d4d">80</text>
<text x="989.5" y="974.1" font-size="36" text-anchor="middle" fill="#4d4d4d">90</text>
<text x="648.7" y="703.3" font-size="36" text-anchor="end" fill="#4d4d4d">0.0</text>
<text x="648.7" y="787.8" font-size="36" text-anchor="end" fill="#4d4d4d">−0.4</text>
<text x="648.7" y="871.8" font-size="36" text-anchor="end" fill="#4d4d4d">−0.8</text>
<text x="850.7" y="593.1" font-size="42.0" text-anchor="middle" fill="#000">Docetaxel + Gefitinib</text>
<text x="841.1" y="1020.4" font-size="36" text-anchor="middle" fill="#000">Experimental Viability</text>
<clipPath id="c6"><rect x="1227.8" y="615.6" width="326.9" height="311.3"/></clipPath>
<g clip-path="url(#c6)"><path d="M1275.5 615.6V926.9M1339.6 615.6V926.9M1403.9 615.6V926.9M1467.9 615.6V926.9M1532.4 615.6V926.9M1227.8 633.1H1554.7M1227.8 701.3H1554.7M1227.8 769.6H1554.7M1227.8 837.9H1554.7M1227.8 906.2H1554.7" stroke="#ebebeb" stroke-width="2.2" fill="none"/><path d="M1243.2 615.6V926.9M1307.6 615.6V926.9M1371.7 615.6V926.9M1435.8 615.6V926.9M1499.9 615.6V926.9M1227.8 667.3H1554.7M1227.8 735.4H1554.7M1227.8 803.7H1554.7M1227.8 871.9H1554.7" stroke="#ebebeb" stroke-width="4.5" fill="none"/><circle cx="1241.5" cy="867.3" r="7" fill="#A3A500"/><circle cx="1258.9" cy="774.5" r="7" fill="#F8766D"/><circle cx="1286.8" cy="854.1" r="7" fill="#00BF7D"/><circle cx="1298.8" cy="786.8" r="7" fill="#00B0F6"/><circle cx="1540.4" cy="774.2" r="7" fill="#E76BF3"/><path d="M1241.5 745.6 L1245.3 746.3 L1249.1 746.9 L1252.9 747.4 L1256.6 747.9 L1260.4 748.4 L1264.2 748.8 L1268.0 749.1 L1271.8 749.4 L1275.6 749.7 L1279.3 749.9 L1283.1 750.0 L1286.9 750.0 L1290.7 750.0 L1294.5 750.0 L1298.3 749.8 L1302.0 749.6 L1305.8 749.3 L1309.6 749.0 L1313.4 748.6 L1317.2 748.1 L1321.0 747.5 L1324.7 746.8 L1328.5 746.1 L1332.3 745.3 L1336.1 744.4 L1339.9 743.4 L1343.7 742.4 L1347.4 741.2 L1351.2 740.1 L1355.0 738.8 L1358.8 737.5 L1362.6 736.1 L1366.4 734.6 L1370.1 733.1 L1373.9 731.5 L1377.7 729.8 L1381.5 728.1 L1385.3 726.4 L1389.1 724.6 L1392.8 722.7 L1396.6 720.8 L1400.4 718.9 L1404.2 716.9 L1408.0 714.8 L1411.8 712.7 L1415.5 710.6 L1419.3 708.5 L1423.1 706.3 L1426.9 704.1 L1430.7 701.8 L1434.5 699.6 L1438.2 697.3 L1442.0 694.9 L1445.8 692.6 L1449.6 690.2 L1453.4 687.8 L1457.2 685.4 L1460.9 682.9 L1464.7 680.5 L1468.5 678.0 L1472.3 675.5 L1476.1 673.0 L1479.9 670.5 L1483.6 667.9 L1487.4 665.4 L1491.2 662.8 L1495.0 660.2 L1498.8 657.6 L1502.6 655.0 L1506.3 652.4 L1510.1 649.8 L1513.9 647.1 L1517.7 644.5 L1521.5 641.8 L1525.3 639.2 L1529.0 636.5 L1532.8 633.8 L1536.6 631.1 L1540.4 628.4 L1540.4 913.7 L1536.6 912.4 L1532.8 911.1 L1529.0 909.8 L1525.3 908.6 L1521.5 907.3 L1517.7 906.1 L1513.9 904.9 L1510.1 903.7 L1506.3 902.4 L1502.6 901.2 L1498.8 900.1 L1495.0 898.9 L1491.2 897.7 L1487.4 896.6 L1483.6 895.4 L1479.9 894.3 L1476.1 893.2 L1472.3 892.1 L1468.5 891.0 L1464.7 890.0 L1460.9 888.9 L1457.2 887.9 L1453.4 886.9 L1449.6 885.9 L1445.8 885.0 L1442.0 884.0 L1438.2 883.1 L1434.5 882.3 L1430.7 881.4 L1426.9 880.6 L1423.1 879.8 L1419.3 879.0 L1415.5 878.3 L1411.8 877.6 L1408.0 876.9 L1404.2 876.3 L1400.4 875.7 L1396.6 875.2 L1392.8 874.7 L1389.1 874.3 L1385.3 873.9 L1381.5 873.5 L1377.7 873.3 L1373.9 873.0 L1370.1 872.9 L1366.4 872.8 L1362.6 872.7 L1358.8 872.7 L1355.0 872.8 L1351.2 873.0 L1347.4 873.2 L1343.7 873.5 L1339.9 873.9 L1336.1 874.3 L1332.3 874.9 L1328.5 875.5 L1324.7 876.1 L1321.0 876.9 L1317.2 877.7 L1313.4 878.7 L1309.6 879.6 L1305.8 880.7 L1302.0 881.8 L1298.3 883.1 L1294.5 884.3 L1290.7 885.7 L1286.9 887.1 L1283.1 888.6 L1279.3 890.1 L1275.6 891.7 L1271.8 893.4 L1268.0 895.1 L1264.2 896.9 L1260.4 898.7 L1256.6 900.6 L1252.9 902.5 L1249.1 904.5 L1245.3 906.5 L1241.5 908.5Z" fill="#999" fill-opacity="0.4"/><path d="M1241.5 827.1L1540.4 771.0" stroke="#3366FF" stroke-width="6.8" fill="none"/></g>
<text x="1552.5" y="913.3" font-size="32.8" text-anchor="end" fill="#000">cor= 0.7 ; p−val= 0.23</text>
<rect x="1227.8" y="615.6" width="326.9" height="311.3" fill="none" stroke="#333" stroke-width="3"/>
<path d="M1243.2 928.1999999999999V939.1999999999999M1307.6 928.1999999999999V939.1999999999999M1371.7 928.1999999999999V939.1999999999999M1435.8 928.1999999999999V939.1999999999999M1499.9 928.1999999999999V939.1999999999999M1226.5 667.3H1215.3999999999999M1226.5 735.4H1215.3999999999999M1226.5 803.7H1215.3999999999999M1226.5 871.9H1215.3999999999999" stroke="#333" stroke-width="4.6" fill="none"/>
<text x="1242.9" y="974.1" font-size="36" text-anchor="middle" fill="#4d4d4d">30</text>
<text x="1307.3" y="974.1" font-size="36" text-anchor="middle" fill="#4d4d4d">40</text>
<text x="1371.4" y="974.1" font-size="36" text-anchor="middle" fill="#4d4d4d">50</text>
<text x="1435.5" y="974.1" font-size="36" text-anchor="middle" fill="#4d4d4d">60</text>
<text x="1499.6" y="974.1" font-size="36" text-anchor="middle" fill="#4d4d4d">70</text>
<text x="1206.5" y="679.8" font-size="36" text-anchor="end" fill="#4d4d4d">0.00</text>
<text x="1206.5" y="747.9" font-size="36" text-anchor="end" fill="#4d4d4d">−0.25</text>
<text x="1206.5" y="816.2" font-size="36" text-anchor="end" fill="#4d4d4d">−0.50</text>
<text x="1206.5" y="884.4" font-size="36" text-anchor="end" fill="#4d4d4d">−0.75</text>
<text x="1400.8" y="593.1" font-size="42.0" text-anchor="middle" fill="#000">Gefitinib + Epothilone-B</text>
<text x="1392.8" y="1020.4" font-size="36" text-anchor="middle" fill="#000">Experimental Viability</text>
<clipPath id="c7"><rect x="142.6" y="1140.5" width="347.2" height="311.8"/></clipPath>
<g clip-path="url(#c7)"><path d="M209.9 1140.5V1452.3M293.7 1140.5V1452.3M377.4 1140.5V1452.3M461.4 1140.5V1452.3M142.6 1169.8H489.8M142.6 1222.3H489.8M142.6 1274.8H489.8M142.6 1327.4H489.8M142.6 1379.9H489.8M142.6 1432.4H489.8" stroke="#ebebeb" stroke-width="2.2" fill="none"/><path d="M167.9 1140.5V1452.3M251.7 1140.5V1452.3M335.3 1140.5V1452.3M419.4 1140.5V1452.3M142.6 1143.5H489.8M142.6 1196.1H489.8M142.6 1248.6H489.8M142.6 1301.1H489.8M142.6 1353.6H489.8M142.6 1406.1H489.8" stroke="#ebebeb" stroke-width="4.5" fill="none"/><circle cx="157.8" cy="1337.9" r="7" fill="#A3A500"/><circle cx="236.0" cy="1321.7" r="7" fill="#F8766D"/><circle cx="331.3" cy="1287.0" r="7" fill="#00BF7D"/><circle cx="352.8" cy="1337.4" r="7" fill="#00B0F6"/><circle cx="475.0" cy="1216.6" r="7" fill="#E76BF3"/><path d="M157.8 1265.7 L161.8 1265.9 L165.8 1266.0 L169.8 1266.1 L173.9 1266.2 L177.9 1266.3 L181.9 1266.3 L185.9 1266.4 L189.9 1266.4 L193.9 1266.4 L198.0 1266.4 L202.0 1266.4 L206.0 1266.3 L210.0 1266.2 L214.0 1266.1 L218.0 1266.0 L222.0 1265.8 L226.1 1265.6 L230.1 1265.3 L234.1 1265.1 L238.1 1264.7 L242.1 1264.4 L246.1 1264.0 L250.1 1263.6 L254.2 1263.1 L258.2 1262.5 L262.2 1262.0 L266.2 1261.3 L270.2 1260.6 L274.2 1259.9 L278.3 1259.1 L282.3 1258.2 L286.3 1257.3 L290.3 1256.3 L294.3 1255.2 L298.3 1254.1 L302.3 1252.9 L306.4 1251.7 L310.4 1250.3 L314.4 1248.9 L318.4 1247.5 L322.4 1245.9 L326.4 1244.3 L330.5 1242.7 L334.5 1240.9 L338.5 1239.1 L342.5 1237.3 L346.5 1235.3 L350.5 1233.3 L354.5 1231.3 L358.6 1229.2 L362.6 1227.1 L366.6 1224.9 L370.6 1222.6 L374.6 1220.3 L378.6 1218.0 L382.7 1215.6 L386.7 1213.2 L390.7 1210.7 L394.7 1208.2 L398.7 1205.7 L402.7 1203.2 L406.7 1200.6 L410.8 1197.9 L414.8 1195.3 L418.8 1192.6 L422.8 1189.9 L426.8 1187.2 L430.8 1184.5 L434.8 1181.7 L438.9 1178.9 L442.9 1176.1 L446.9 1173.3 L450.9 1170.5 L454.9 1167.7 L458.9 1164.8 L463.0 1161.9 L467.0 1159.0 L471.0 1156.1 L475.0 1153.2 L475.0 1335.0 L471.0 1334.8 L467.0 1334.7 L463.0 1334.5 L458.9 1334.4 L454.9 1334.2 L450.9 1334.1 L446.9 1334.0 L442.9 1333.9 L438.9 1333.9 L434.8 1333.8 L430.8 1333.8 L426.8 1333.8 L422.8 1333.8 L418.8 1333.9 L414.8 1333.9 L410.8 1334.0 L406.7 1334.1 L402.7 1334.3 L398.7 1334.5 L394.7 1334.7 L390.7 1334.9 L386.7 1335.2 L382.7 1335.5 L378.6 1335.9 L374.6 1336.3 L370.6 1336.7 L366.6 1337.2 L362.6 1337.7 L358.6 1338.3 L354.5 1339.0 L350.5 1339.7 L346.5 1340.4 L342.5 1341.2 L338.5 1342.1 L334.5 1343.0 L330.5 1344.0 L326.4 1345.1 L322.4 1346.2 L318.4 1347.4 L314.4 1348.7 L310.4 1350.0 L306.4 1351.4 L302.3 1352.9 L298.3 1354.5 L294.3 1356.1 L290.3 1357.8 L286.3 1359.5 L282.3 1361.3 L278.3 1363.2 L274.2 1365.1 L270.2 1367.1 L266.2 1369.1 L262.2 1371.2 L258.2 1373.4 L254.2 1375.6 L250.1 1377.9 L246.1 1380.2 L242.1 1382.5 L238.1 1384.9 L234.1 1387.3 L230.1 1389.8 L226.1 1392.3 L222.0 1394.8 L218.0 1397.3 L214.0 1399.9 L210.0 1402.6 L206.0 1405.2 L202.0 1407.9 L198.0 1410.6 L193.9 1413.3 L189.9 1416.0 L185.9 1418.8 L181.9 1421.6 L177.9 1424.4 L173.9 1427.2 L169.8 1430.0 L165.8 1432.9 L161.8 1435.7 L157.8 1438.6Z" fill="#999" fill-opacity="0.4"/><path d="M157.8 1352.2L475.0 1244.1" stroke="#3366FF" stroke-width="6.8" fill="none"/></g>
<text x="482.4" y="1438.4" font-size="32.8" text-anchor="end" fill="#000">cor= 0.7 ; p−val= 0.23</text>
<rect x="142.6" y="1140.5" width="347.2" height="311.8" fill="none" stroke="#333" stroke-width="3"/>
<path d="M167.9 1453.6V1464.6M251.7 1453.6V1464.6M335.3 1453.6V1464.6M419.4 1453.6V1464.6M141.29999999999998 1143.5H130.2M141.29999999999998 1196.1H130.2M141.29999999999998 1248.6H130.2M141.29999999999998 1301.1H130.2M141.29999999999998 1353.6H130.2M141.29999999999998 1406.1H130.2" stroke="#333" stroke-width="4.6" fill="none"/>
<text x="167.6" y="1499.5" font-size="36" text-anchor="middle" fill="#4d4d4d">40</text>
<text x="251.4" y="1499.5" font-size="36" text-anchor="middle" fill="#4d4d4d">50</text>
<text x="335.0" y="1499.5" font-size="36" text-anchor="middle" fill="#4d4d4d">60</text>
<text x="419.1" y="1499.5" font-size="36" text-anchor="middle" fill="#4d4d4d">70</text>
<text x="121.3" y="1156.0" font-size="36" text-anchor="end" fill="#4d4d4d">1.5</text>
<text x="121.3" y="1208.6" font-size="36" text-anchor="end" fill="#4d4d4d">1.0</text>
<text x="121.3" y="1261.1" font-size="36" text-anchor="end" fill="#4d4d4d">0.5</text>
<text x="121.3" y="1313.6" font-size="36" text-anchor="end" fill="#4d4d4d">0.0</text>
<text x="121.3" y="1366.1" font-size="36" text-anchor="end" fill="#4d4d4d">−0.5</text>
<text x="121.3" y="1418.6" font-size="36" text-anchor="end" fill="#4d4d4d">−1.0</text>
<text x="312.1" y="1123.6" font-size="42.0" text-anchor="middle" fill="#000">Docetaxel</text>
<clipPath id="c8"><rect x="680.5" y="1140.5" width="347.2" height="311.8"/></clipPath>
<g clip-path="url(#c8)"><path d="M748.3 1140.5V1452.3M821.8 1140.5V1452.3M895.4 1140.5V1452.3M968.9 1140.5V1452.3M680.5 1193.5H1027.7M680.5 1276.9H1027.7M680.5 1360.1H1027.7M680.5 1443.5H1027.7" stroke="#ebebeb" stroke-width="2.2" fill="none"/><path d="M711.6 1140.5V1452.3M785.1 1140.5V1452.3M858.6 1140.5V1452.3M932.1 1140.5V1452.3M1005.7 1140.5V1452.3M680.5 1152.1H1027.7M680.5 1235.1H1027.7M680.5 1318.5H1027.7M680.5 1401.9H1027.7" stroke="#ebebeb" stroke-width="4.5" fill="none"/><circle cx="695.2" cy="1328.4" r="7" fill="#A3A500"/><circle cx="780.5" cy="1293.7" r="7" fill="#F8766D"/><circle cx="851.9" cy="1268.1" r="7" fill="#00B0F6"/><circle cx="867.4" cy="1367.9" r="7" fill="#00BF7D"/><circle cx="1012.6" cy="1265.0" r="7" fill="#E76BF3"/><path d="M695.2 1214.6 L699.2 1216.0 L703.2 1217.4 L707.3 1218.8 L711.3 1220.1 L715.3 1221.4 L719.3 1222.8 L723.3 1224.0 L727.3 1225.3 L731.4 1226.5 L735.4 1227.7 L739.4 1228.8 L743.4 1230.0 L747.4 1231.0 L751.4 1232.1 L755.5 1233.1 L759.5 1234.0 L763.5 1234.9 L767.5 1235.8 L771.5 1236.6 L775.6 1237.4 L779.6 1238.1 L783.6 1238.7 L787.6 1239.3 L791.6 1239.8 L795.6 1240.2 L799.7 1240.5 L803.7 1240.8 L807.7 1241.0 L811.7 1241.1 L815.7 1241.2 L819.7 1241.1 L823.8 1241.0 L827.8 1240.7 L831.8 1240.4 L835.8 1240.0 L839.8 1239.5 L843.9 1238.9 L847.9 1238.1 L851.9 1237.3 L855.9 1236.4 L859.9 1235.4 L863.9 1234.4 L868.0 1233.2 L872.0 1231.9 L876.0 1230.6 L880.0 1229.2 L884.0 1227.7 L888.1 1226.1 L892.1 1224.4 L896.1 1222.7 L900.1 1220.9 L904.1 1219.0 L908.1 1217.1 L912.2 1215.1 L916.2 1213.1 L920.2 1211.0 L924.2 1208.9 L928.2 1206.7 L932.2 1204.5 L936.3 1202.2 L940.3 1199.9 L944.3 1197.6 L948.3 1195.2 L952.3 1192.8 L956.4 1190.4 L960.4 1187.9 L964.4 1185.4 L968.4 1182.9 L972.4 1180.4 L976.4 1177.8 L980.5 1175.2 L984.5 1172.6 L988.5 1170.0 L992.5 1167.3 L996.5 1164.6 L1000.5 1162.0 L1004.6 1159.3 L1008.6 1156.5 L1012.6 1153.8 L1012.6 1403.8 L1008.6 1402.2 L1004.6 1400.7 L1000.5 1399.3 L996.5 1397.8 L992.5 1396.3 L988.5 1394.9 L984.5 1393.5 L980.5 1392.1 L976.4 1390.7 L972.4 1389.3 L968.4 1388.0 L964.4 1386.7 L960.4 1385.4 L956.4 1384.2 L952.3 1382.9 L948.3 1381.7 L944.3 1380.6 L940.3 1379.5 L936.3 1378.4 L932.2 1377.3 L928.2 1376.3 L924.2 1375.4 L920.2 1374.4 L916.2 1373.6 L912.2 1372.8 L908.1 1372.0 L904.1 1371.3 L900.1 1370.7 L896.1 1370.1 L892.1 1369.6 L888.1 1369.1 L884.0 1368.7 L880.0 1368.5 L876.0 1368.2 L872.0 1368.1 L868.0 1368.1 L863.9 1368.1 L859.9 1368.2 L855.9 1368.5 L851.9 1368.8 L847.9 1369.2 L843.9 1369.7 L839.8 1370.3 L835.8 1371.0 L831.8 1371.8 L827.8 1372.6 L823.8 1373.6 L819.7 1374.7 L815.7 1375.9 L811.7 1377.1 L807.7 1378.4 L803.7 1379.8 L799.7 1381.3 L795.6 1382.9 L791.6 1384.6 L787.6 1386.3 L783.6 1388.1 L779.6 1389.9 L775.6 1391.8 L771.5 1393.8 L767.5 1395.8 L763.5 1397.9 L759.5 1400.0 L755.5 1402.2 L751.4 1404.4 L747.4 1406.6 L743.4 1408.9 L739.4 1411.2 L735.4 1413.6 L731.4 1416.0 L727.3 1418.4 L723.3 1420.9 L719.3 1423.4 L715.3 1425.9 L711.3 1428.5 L707.3 1431.0 L703.2 1433.6 L699.2 1436.2 L695.2 1438.8Z" fill="#999" fill-opacity="0.4"/><path d="M695.2 1326.7L1012.6 1278.8" stroke="#3366FF" stroke-width="6.8" fill="none"/></g>
<text x="1019.7" y="1444.0" font-size="32.8" text-anchor="end" fill="#000">cor= 0.4 ; p−val= 0.52</text>
<rect x="680.5" y="1140.5" width="347.2" height="311.8" fill="none" stroke="#333" stroke-width="3"/>
<path d="M711.6 1453.6V1464.6M785.1 1453.6V1464.6M858.6 1453.6V1464.6M932.1 1453.6V1464.6M1005.7 1453.6V1464.6M679.2 1152.1H668.1M679.2 1235.1H668.1M679.2 1318.5H668.1M679.2 1401.9H668.1" stroke="#333" stroke-width="4.6" fill="none"/>
<text x="711.3" y="1499.5" font-size="36" text-anchor="middle" fill="#4d4d4d">30</text>
<text x="784.8" y="1499.5" font-size="36" text-anchor="middle" fill="#4d4d4d">40</text>
<text x="858.3" y="1499.5" font-size="36" text-anchor="middle" fill="#4d4d4d">50</text>
<text x="931.8" y="1499.5" font-size="36" text-anchor="middle" fill="#4d4d4d">60</text>
<text x="1005.4" y="1499.5" font-size="36" text-anchor="middle" fill="#4d4d4d">70</text>
<text x="659.2" y="1164.6" font-size="36" text-anchor="end" fill="#4d4d4d">1.0</text>
<text x="659.2" y="1247.6" font-size="36" text-anchor="end" fill="#4d4d4d">0.5</text>
<text x="659.2" y="1331.0" font-size="36" text-anchor="end" fill="#4d4d4d">0.0</text>
<text x="659.2" y="1414.4" font-size="36" text-anchor="end" fill="#4d4d4d">−0.5</text>
<text x="866.8" y="1123.6" font-size="42.0" text-anchor="middle" fill="#000">Epothilone-B</text>
<clipPath id="c9"><rect x="1218.4" y="1140.5" width="347.1" height="311.8"/></clipPath>
<g clip-path="url(#c9)"><path d="M1308.8 1140.5V1452.3M1413.6 1140.5V1452.3M1517.8 1140.5V1452.3M1218.4 1187.9H1565.5M1218.4 1259.3H1565.5M1218.4 1330.7H1565.5M1218.4 1402.1H1565.5" stroke="#ebebeb" stroke-width="2.2" fill="none"/><path d="M1256.7 1140.5V1452.3M1361.3 1140.5V1452.3M1465.7 1140.5V1452.3M1218.4 1152.1H1565.5M1218.4 1223.6H1565.5M1218.4 1294.8H1565.5M1218.4 1366.2H1565.5M1218.4 1437.6H1565.5" stroke="#ebebeb" stroke-width="4.5" fill="none"/><circle cx="1233.2" cy="1324.8" r="7" fill="#00B0F6"/><circle cx="1278.7" cy="1354.7" r="7" fill="#00BF7D"/><circle cx="1367.8" cy="1255.5" r="7" fill="#F8766D"/><circle cx="1397.9" cy="1354.2" r="7" fill="#A3A500"/><circle cx="1550.4" cy="1278.4" r="7" fill="#E76BF3"/><path d="M1233.2 1234.2 L1237.2 1235.3 L1241.2 1236.4 L1245.2 1237.5 L1249.3 1238.6 L1253.3 1239.6 L1257.3 1240.6 L1261.3 1241.6 L1265.3 1242.5 L1269.3 1243.4 L1273.4 1244.3 L1277.4 1245.1 L1281.4 1245.9 L1285.4 1246.6 L1289.4 1247.3 L1293.4 1247.9 L1297.4 1248.5 L1301.5 1249.1 L1305.5 1249.6 L1309.5 1250.0 L1313.5 1250.3 L1317.5 1250.6 L1321.5 1250.9 L1325.5 1251.0 L1329.6 1251.1 L1333.6 1251.1 L1337.6 1251.1 L1341.6 1250.9 L1345.6 1250.7 L1349.6 1250.4 L1353.7 1250.0 L1357.7 1249.5 L1361.7 1249.0 L1365.7 1248.3 L1369.7 1247.6 L1373.7 1246.8 L1377.7 1245.9 L1381.8 1244.9 L1385.8 1243.8 L1389.8 1242.6 L1393.8 1241.4 L1397.8 1240.0 L1401.8 1238.6 L1405.9 1237.2 L1409.9 1235.6 L1413.9 1234.0 L1417.9 1232.3 L1421.9 1230.6 L1425.9 1228.8 L1429.9 1226.9 L1434.0 1225.0 L1438.0 1223.0 L1442.0 1221.0 L1446.0 1218.9 L1450.0 1216.8 L1454.0 1214.6 L1458.1 1212.4 L1462.1 1210.2 L1466.1 1207.9 L1470.1 1205.6 L1474.1 1203.2 L1478.1 1200.8 L1482.1 1198.4 L1486.2 1196.0 L1490.2 1193.5 L1494.2 1191.0 L1498.2 1188.5 L1502.2 1186.0 L1506.2 1183.4 L1510.2 1180.8 L1514.3 1178.2 L1518.3 1175.6 L1522.3 1173.0 L1526.3 1170.3 L1530.3 1167.7 L1534.3 1165.0 L1538.4 1162.3 L1542.4 1159.6 L1546.4 1156.8 L1550.4 1154.1 L1550.4 1409.3 L1546.4 1408.0 L1542.4 1406.6 L1538.4 1405.3 L1534.3 1404.0 L1530.3 1402.7 L1526.3 1401.4 L1522.3 1400.1 L1518.3 1398.9 L1514.3 1397.6 L1510.2 1396.4 L1506.2 1395.2 L1502.2 1394.0 L1498.2 1392.9 L1494.2 1391.8 L1490.2 1390.6 L1486.2 1389.6 L1482.1 1388.5 L1478.1 1387.5 L1474.1 1386.5 L1470.1 1385.5 L1466.1 1384.6 L1462.1 1383.7 L1458.1 1382.8 L1454.0 1382.0 L1450.0 1381.2 L1446.0 1380.5 L1442.0 1379.8 L1438.0 1379.1 L1434.0 1378.5 L1429.9 1378.0 L1425.9 1377.5 L1421.9 1377.1 L1417.9 1376.7 L1413.9 1376.4 L1409.9 1376.2 L1405.9 1376.0 L1401.8 1375.9 L1397.8 1375.9 L1393.8 1376.0 L1389.8 1376.1 L1385.8 1376.3 L1381.8 1376.6 L1377.7 1377.0 L1373.7 1377.5 L1369.7 1378.0 L1365.7 1378.7 L1361.7 1379.4 L1357.7 1380.2 L1353.7 1381.1 L1349.6 1382.1 L1345.6 1383.2 L1341.6 1384.4 L1337.6 1385.6 L1333.6 1386.9 L1329.6 1388.3 L1325.5 1389.8 L1321.5 1391.3 L1317.5 1392.9 L1313.5 1394.6 L1309.5 1396.4 L1305.5 1398.2 L1301.5 1400.0 L1297.4 1402.0 L1293.4 1403.9 L1289.4 1406.0 L1285.4 1408.0 L1281.4 1410.2 L1277.4 1412.3 L1273.4 1414.5 L1269.3 1416.8 L1265.3 1419.0 L1261.3 1421.4 L1257.3 1423.7 L1253.3 1426.1 L1249.3 1428.5 L1245.2 1430.9 L1241.2 1433.4 L1237.2 1435.9 L1233.2 1438.4Z" fill="#999" fill-opacity="0.4"/><path d="M1233.2 1336.3L1550.4 1281.7" stroke="#3366FF" stroke-width="6.8" fill="none"/></g>
<text x="1557.5" y="1441.3" font-size="32.8" text-anchor="end" fill="#000">cor= 0.3 ; p−val= 0.68</text>
<rect x="1218.4" y="1140.5" width="347.1" height="311.8" fill="none" stroke="#333" stroke-width="3"/>
<path d="M1256.7 1453.6V1464.6M1361.3 1453.6V1464.6M1465.7 1453.6V1464.6M1217.1000000000001 1152.1H1206.0M1217.1000000000001 1223.6H1206.0M1217.1000000000001 1294.8H1206.0M1217.1000000000001 1366.2H1206.0M1217.1000000000001 1437.6H1206.0" stroke="#333" stroke-width="4.6" fill="none"/>
<text x="1256.4" y="1499.5" font-size="36" text-anchor="middle" fill="#4d4d4d">40</text>
<text x="1361.0" y="1499.5" font-size="36" text-anchor="middle" fill="#4d4d4d">60</text>
<text x="1465.4" y="1499.5" font-size="36" text-anchor="middle" fill="#4d4d4d">80</text>
<text x="1197.1" y="1164.6" font-size="36" text-anchor="end" fill="#4d4d4d">0.4</text>
<text x="1197.1" y="1236.1" font-size="36" text-anchor="end" fill="#4d4d4d">0.2</text>
<text x="1197.1" y="1307.3" font-size="36" text-anchor="end" fill="#4d4d4d">0.0</text>
<text x="1197.1" y="1378.7" font-size="36" text-anchor="end" fill="#4d4d4d">−0.2</text>
<text x="1197.1" y="1450.1" font-size="36" text-anchor="end" fill="#4d4d4d">−0.4</text>
<text x="1401.1" y="1123.6" font-size="42.0" text-anchor="middle" fill="#000">Gefitinib</text>
<clipPath id="c10"><rect x="1756.3" y="1140.5" width="347.3" height="311.8"/></clipPath>
<g clip-path="url(#c10)"><path d="M1828.6 1140.5V1452.3M1912.2 1140.5V1452.3M1995.8 1140.5V1452.3M2079.6 1140.5V1452.3M1756.3 1160.3H2103.6M1756.3 1236.2H2103.6M1756.3 1312.6H2103.6M1756.3 1388.5H2103.6" stroke="#ebebeb" stroke-width="2.2" fill="none"/><path d="M1786.5 1140.5V1452.3M1870.6 1140.5V1452.3M1953.8 1140.5V1452.3M2037.8 1140.5V1452.3M1756.3 1198.4H2103.6M1756.3 1274.4H2103.6M1756.3 1350.7H2103.6M1756.3 1426.7H2103.6" stroke="#ebebeb" stroke-width="4.5" fill="none"/><circle cx="1770.8" cy="1270.2" r="7" fill="#00BF7D"/><circle cx="1886.3" cy="1350.7" r="7" fill="#F8766D"/><circle cx="2006.3" cy="1227.1" r="7" fill="#00B0F6"/><circle cx="2080.9" cy="1305.7" r="7" fill="#A3A500"/><circle cx="2088.0" cy="1265.6" r="7" fill="#E76BF3"/><path d="M1770.8 1153.7 L1774.8 1155.6 L1778.8 1157.4 L1782.8 1159.2 L1786.9 1161.0 L1790.9 1162.8 L1794.9 1164.6 L1798.9 1166.4 L1802.9 1168.1 L1806.9 1169.8 L1811.0 1171.6 L1815.0 1173.2 L1819.0 1174.9 L1823.0 1176.6 L1827.0 1178.2 L1831.0 1179.8 L1835.0 1181.4 L1839.1 1182.9 L1843.1 1184.5 L1847.1 1186.0 L1851.1 1187.4 L1855.1 1188.9 L1859.1 1190.3 L1863.1 1191.6 L1867.2 1193.0 L1871.2 1194.3 L1875.2 1195.5 L1879.2 1196.7 L1883.2 1197.9 L1887.2 1199.0 L1891.3 1200.1 L1895.3 1201.1 L1899.3 1202.1 L1903.3 1203.0 L1907.3 1203.9 L1911.3 1204.7 L1915.3 1205.4 L1919.4 1206.1 L1923.4 1206.7 L1927.4 1207.3 L1931.4 1207.7 L1935.4 1208.1 L1939.4 1208.5 L1943.5 1208.7 L1947.5 1208.9 L1951.5 1209.0 L1955.5 1209.0 L1959.5 1208.9 L1963.5 1208.7 L1967.5 1208.5 L1971.6 1208.2 L1975.6 1207.8 L1979.6 1207.3 L1983.6 1206.8 L1987.6 1206.1 L1991.6 1205.4 L1995.7 1204.6 L1999.7 1203.7 L2003.7 1202.8 L2007.7 1201.8 L2011.7 1200.7 L2015.7 1199.6 L2019.7 1198.3 L2023.8 1197.1 L2027.8 1195.7 L2031.8 1194.3 L2035.8 1192.9 L2039.8 1191.4 L2043.8 1189.8 L2047.8 1188.2 L2051.9 1186.5 L2055.9 1184.8 L2059.9 1183.1 L2063.9 1181.3 L2067.9 1179.5 L2071.9 1177.6 L2076.0 1175.7 L2080.0 1173.8 L2084.0 1171.9 L2088.0 1169.9 L2088.0 1382.6 L2084.0 1381.1 L2080.0 1379.6 L2076.0 1378.2 L2071.9 1376.8 L2067.9 1375.5 L2063.9 1374.1 L2059.9 1372.9 L2055.9 1371.6 L2051.9 1370.4 L2047.8 1369.3 L2043.8 1368.2 L2039.8 1367.1 L2035.8 1366.1 L2031.8 1365.2 L2027.8 1364.3 L2023.8 1363.4 L2019.7 1362.7 L2015.7 1362.0 L2011.7 1361.3 L2007.7 1360.7 L2003.7 1360.2 L1999.7 1359.8 L1995.7 1359.4 L1991.6 1359.1 L1987.6 1358.9 L1983.6 1358.8 L1979.6 1358.7 L1975.6 1358.8 L1971.6 1358.9 L1967.5 1359.1 L1963.5 1359.3 L1959.5 1359.7 L1955.5 1360.1 L1951.5 1360.6 L1947.5 1361.2 L1943.5 1361.9 L1939.4 1362.7 L1935.4 1363.5 L1931.4 1364.4 L1927.4 1365.4 L1923.4 1366.4 L1919.4 1367.5 L1915.3 1368.7 L1911.3 1370.0 L1907.3 1371.3 L1903.3 1372.6 L1899.3 1374.1 L1895.3 1375.5 L1891.3 1377.1 L1887.2 1378.6 L1883.2 1380.3 L1879.2 1382.0 L1875.2 1383.7 L1871.2 1385.4 L1867.2 1387.2 L1863.1 1389.1 L1859.1 1390.9 L1855.1 1392.9 L1851.1 1394.8 L1847.1 1396.8 L1843.1 1398.8 L1839.1 1400.8 L1835.0 1402.9 L1831.0 1405.0 L1827.0 1407.1 L1823.0 1409.2 L1819.0 1411.4 L1815.0 1413.5 L1811.0 1415.7 L1806.9 1417.9 L1802.9 1420.2 L1798.9 1422.4 L1794.9 1424.7 L1790.9 1427.0 L1786.9 1429.3 L1782.8 1431.6 L1778.8 1433.9 L1774.8 1436.3 L1770.8 1438.6Z" fill="#999" fill-opacity="0.4"/><path d="M1770.8 1296.2L2088.0 1276.2" stroke="#3366FF" stroke-width="6.8" fill="none"/></g>
<text x="2095.6" y="1441.4" font-size="32.8" text-anchor="end" fill="#000">cor= 0.3 ; p−val= 0.68</text>
<rect x="1756.3" y="1140.5" width="347.3" height="311.8" fill="none" stroke="#333" stroke-width="3"/>
<path d="M1786.5 1453.6V1464.6M1870.6 1453.6V1464.6M1953.8 1453.6V1464.6M2037.8 1453.6V1464.6M1755.0 1198.4H1743.8999999999999M1755.0 1274.4H1743.8999999999999M1755.0 1350.7H1743.8999999999999M1755.0 1426.7H1743.8999999999999" stroke="#333" stroke-width="4.6" fill="none"/>
<text x="1786.2" y="1499.5" font-size="36" text-anchor="middle" fill="#4d4d4d">70</text>
<text x="1870.3" y="1499.5" font-size="36" text-anchor="middle" fill="#4d4d4d">75</text>
<text x="1953.5" y="1499.5" font-size="36" text-anchor="middle" fill="#4d4d4d">80</text>
<text x="2037.5" y="1499.5" font-size="36" text-anchor="middle" fill="#4d4d4d">85</text>
<text x="1735.0" y="1210.9" font-size="36" text-anchor="end" fill="#4d4d4d">0.5</text>
<text x="1735.0" y="1286.9" font-size="36" text-anchor="end" fill="#4d4d4d">0.0</text>
<text x="1735.0" y="1363.2" font-size="36" text-anchor="end" fill="#4d4d4d">−0.5</text>
<text x="1735.0" y="1439.2" font-size="36" text-anchor="end" fill="#4d4d4d">−1.0</text>
<text x="1943" y="1123.6" font-size="42.0" text-anchor="middle" fill="#000">Vorinostat</text>
<text x="1950" y="1544" font-size="36" text-anchor="middle" fill="#000">Experimental Viability</text>
<clipPath id="c11"><rect x="142.6" y="1678.5" width="347.2" height="311.2"/></clipPath>
<g clip-path="url(#c11)"><path d="M217.7 1678.5V1989.7M311.2 1678.5V1989.7M404.0 1678.5V1989.7M142.6 1708.7H489.8M142.6 1798.0H489.8M142.6 1887.3H489.8M142.6 1976.8H489.8" stroke="#ebebeb" stroke-width="2.2" fill="none"/><path d="M171.1 1678.5V1989.7M264.5 1678.5V1989.7M357.4 1678.5V1989.7M450.9 1678.5V1989.7M142.6 1753.1H489.8M142.6 1842.8H489.8M142.6 1932.1H489.8" stroke="#ebebeb" stroke-width="4.5" fill="none"/><circle cx="157.8" cy="1887.5" r="7" fill="#A3A500"/><circle cx="225.5" cy="1844.7" r="7" fill="#F8766D"/><circle cx="337.4" cy="1864.2" r="7" fill="#00B0F6"/><circle cx="354.9" cy="1847.6" r="7" fill="#00BF7D"/><circle cx="475.0" cy="1748.2" r="7" fill="#E76BF3"/><path d="M157.8 1810.6 L161.8 1810.5 L165.8 1810.5 L169.8 1810.5 L173.9 1810.4 L177.9 1810.3 L181.9 1810.2 L185.9 1810.1 L189.9 1810.0 L193.9 1809.8 L198.0 1809.7 L202.0 1809.5 L206.0 1809.3 L210.0 1809.0 L214.0 1808.7 L218.0 1808.4 L222.0 1808.1 L226.1 1807.8 L230.1 1807.4 L234.1 1806.9 L238.1 1806.5 L242.1 1806.0 L246.1 1805.5 L250.1 1804.9 L254.2 1804.3 L258.2 1803.6 L262.2 1802.9 L266.2 1802.1 L270.2 1801.3 L274.2 1800.4 L278.3 1799.5 L282.3 1798.5 L286.3 1797.5 L290.3 1796.4 L294.3 1795.2 L298.3 1794.0 L302.3 1792.7 L306.4 1791.3 L310.4 1789.9 L314.4 1788.4 L318.4 1786.9 L322.4 1785.2 L326.4 1783.6 L330.5 1781.8 L334.5 1780.0 L338.5 1778.2 L342.5 1776.2 L346.5 1774.2 L350.5 1772.2 L354.5 1770.1 L358.6 1768.0 L362.6 1765.8 L366.6 1763.6 L370.6 1761.3 L374.6 1759.0 L378.6 1756.6 L382.7 1754.2 L386.7 1751.7 L390.7 1749.3 L394.7 1746.7 L398.7 1744.2 L402.7 1741.6 L406.7 1739.0 L410.8 1736.4 L414.8 1733.7 L418.8 1731.0 L422.8 1728.3 L426.8 1725.6 L430.8 1722.8 L434.8 1720.1 L438.9 1717.3 L442.9 1714.5 L446.9 1711.7 L450.9 1708.8 L454.9 1706.0 L458.9 1703.1 L463.0 1700.2 L467.0 1697.3 L471.0 1694.4 L475.0 1691.5 L475.0 1866.3 L471.0 1866.3 L467.0 1866.3 L463.0 1866.3 L458.9 1866.3 L454.9 1866.4 L450.9 1866.4 L446.9 1866.5 L442.9 1866.5 L438.9 1866.6 L434.8 1866.7 L430.8 1866.9 L426.8 1867.0 L422.8 1867.2 L418.8 1867.4 L414.8 1867.6 L410.8 1867.8 L406.7 1868.1 L402.7 1868.4 L398.7 1868.7 L394.7 1869.1 L390.7 1869.5 L386.7 1869.9 L382.7 1870.3 L378.6 1870.8 L374.6 1871.4 L370.6 1871.9 L366.6 1872.5 L362.6 1873.2 L358.6 1873.9 L354.5 1874.7 L350.5 1875.5 L346.5 1876.4 L342.5 1877.3 L338.5 1878.2 L334.5 1879.3 L330.5 1880.4 L326.4 1881.5 L322.4 1882.8 L318.4 1884.0 L314.4 1885.4 L310.4 1886.8 L306.4 1888.3 L302.3 1889.8 L298.3 1891.4 L294.3 1893.1 L290.3 1894.8 L286.3 1896.6 L282.3 1898.5 L278.3 1900.4 L274.2 1902.4 L270.2 1904.4 L266.2 1906.5 L262.2 1908.6 L258.2 1910.8 L254.2 1913.0 L250.1 1915.3 L246.1 1917.6 L242.1 1920.0 L238.1 1922.4 L234.1 1924.8 L230.1 1927.3 L226.1 1929.8 L222.0 1932.4 L218.0 1934.9 L214.0 1937.5 L210.0 1940.2 L206.0 1942.8 L202.0 1945.5 L198.0 1948.2 L193.9 1950.9 L189.9 1953.7 L185.9 1956.4 L181.9 1959.2 L177.9 1962.0 L173.9 1964.9 L169.8 1967.7 L165.8 1970.5 L161.8 1973.4 L157.8 1976.3Z" fill="#999" fill-opacity="0.4"/><path d="M157.8 1893.4L475.0 1778.9" stroke="#3366FF" stroke-width="6.8" fill="none"/></g>
<text x="482.5" y="1973.7" font-size="32.8" text-anchor="end" fill="#000">cor= 0.7 ; p−val= 0.23</text>
<rect x="142.6" y="1678.5" width="347.2" height="311.2" fill="none" stroke="#333" stroke-width="3"/>
<path d="M171.1 1991.0V2002.0M264.5 1991.0V2002.0M357.4 1991.0V2002.0M450.9 1991.0V2002.0M141.29999999999998 1753.1H130.2M141.29999999999998 1842.8H130.2M141.29999999999998 1932.1H130.2" stroke="#333" stroke-width="4.6" fill="none"/>
<text x="170.8" y="2036.9" font-size="36" text-anchor="middle" fill="#4d4d4d">30</text>
<text x="264.2" y="2036.9" font-size="36" text-anchor="middle" fill="#4d4d4d">40</text>
<text x="357.1" y="2036.9" font-size="36" text-anchor="middle" fill="#4d4d4d">50</text>
<text x="450.6" y="2036.9" font-size="36" text-anchor="middle" fill="#4d4d4d">60</text>
<text x="121.3" y="1765.6" font-size="36" text-anchor="end" fill="#4d4d4d">0.0</text>
<text x="121.3" y="1855.3" font-size="36" text-anchor="end" fill="#4d4d4d">−0.5</text>
<text x="121.3" y="1944.6" font-size="36" text-anchor="end" fill="#4d4d4d">−1.0</text>
<text x="334.8" y="1658.1" font-size="42.0" text-anchor="middle" fill="#000">Docetaxel + Epothilone-B</text>
<text x="318.6" y="2081" font-size="36" text-anchor="middle" fill="#000">Experimental Viability</text>
<clipPath id="c12"><rect x="680.5" y="1678.5" width="347.2" height="311.2"/></clipPath>
<g clip-path="url(#c12)"><path d="M742.4 1678.5V1989.7M858.4 1678.5V1989.7M974.6 1678.5V1989.7M680.5 1702.0H1027.7M680.5 1781.8H1027.7M680.5 1861.3H1027.7M680.5 1940.9H1027.7" stroke="#ebebeb" stroke-width="2.2" fill="none"/><path d="M684.7 1678.5V1989.7M800.6 1678.5V1989.7M916.4 1678.5V1989.7M680.5 1741.9H1027.7M680.5 1821.8H1027.7M680.5 1901.0H1027.7M680.5 1980.8H1027.7" stroke="#ebebeb" stroke-width="4.5" fill="none"/><circle cx="695.2" cy="1925.1" r="7" fill="#00B0F6"/><circle cx="738.2" cy="1937.3" r="7" fill="#A3A500"/><circle cx="745.6" cy="1890.5" r="7" fill="#F8766D"/><circle cx="752.3" cy="1855.0" r="7" fill="#00BF7D"/><circle cx="1012.8" cy="1795.1" r="7" fill="#E76BF3"/><path d="M695.2 1858.8 L699.2 1858.2 L703.2 1857.6 L707.3 1857.0 L711.3 1856.3 L715.3 1855.6 L719.3 1854.9 L723.3 1854.1 L727.4 1853.3 L731.4 1852.4 L735.4 1851.5 L739.4 1850.6 L743.4 1849.6 L747.5 1848.6 L751.5 1847.5 L755.5 1846.4 L759.5 1845.2 L763.5 1844.0 L767.6 1842.8 L771.6 1841.4 L775.6 1840.0 L779.6 1838.6 L783.6 1837.1 L787.7 1835.6 L791.7 1833.9 L795.7 1832.3 L799.7 1830.6 L803.7 1828.8 L807.8 1827.0 L811.8 1825.1 L815.8 1823.1 L819.8 1821.1 L823.8 1819.1 L827.9 1817.0 L831.9 1814.9 L835.9 1812.7 L839.9 1810.4 L843.9 1808.2 L848.0 1805.8 L852.0 1803.5 L856.0 1801.1 L860.0 1798.7 L864.1 1796.2 L868.1 1793.7 L872.1 1791.2 L876.1 1788.6 L880.1 1786.0 L884.2 1783.4 L888.2 1780.8 L892.2 1778.1 L896.2 1775.4 L900.2 1772.7 L904.3 1770.0 L908.3 1767.2 L912.3 1764.4 L916.3 1761.7 L920.3 1758.8 L924.4 1756.0 L928.4 1753.2 L932.4 1750.3 L936.4 1747.5 L940.4 1744.6 L944.5 1741.7 L948.5 1738.8 L952.5 1735.9 L956.5 1733.0 L960.5 1730.1 L964.6 1727.1 L968.6 1724.2 L972.6 1721.2 L976.6 1718.2 L980.6 1715.3 L984.7 1712.3 L988.7 1709.3 L992.7 1706.3 L996.7 1703.3 L1000.7 1700.3 L1004.8 1697.3 L1008.8 1694.2 L1012.8 1691.2 L1012.8 1892.2 L1008.8 1892.3 L1004.8 1892.5 L1000.7 1892.7 L996.7 1892.9 L992.7 1893.1 L988.7 1893.3 L984.7 1893.5 L980.6 1893.7 L976.6 1893.9 L972.6 1894.1 L968.6 1894.3 L964.6 1894.6 L960.5 1894.8 L956.5 1895.1 L952.5 1895.4 L948.5 1895.6 L944.5 1895.9 L940.4 1896.2 L936.4 1896.5 L932.4 1896.9 L928.4 1897.2 L924.4 1897.6 L920.3 1897.9 L916.3 1898.3 L912.3 1898.7 L908.3 1899.2 L904.3 1899.6 L900.2 1900.1 L896.2 1900.5 L892.2 1901.0 L888.2 1901.6 L884.2 1902.1 L880.1 1902.7 L876.1 1903.3 L872.1 1903.9 L868.1 1904.6 L864.1 1905.3 L860.0 1906.0 L856.0 1906.8 L852.0 1907.6 L848.0 1908.4 L843.9 1909.3 L839.9 1910.2 L835.9 1911.2 L831.9 1912.2 L827.9 1913.2 L823.8 1914.3 L819.8 1915.5 L815.8 1916.6 L811.8 1917.9 L807.8 1919.2 L803.7 1920.6 L799.7 1922.0 L795.7 1923.4 L791.7 1925.0 L787.7 1926.6 L783.6 1928.2 L779.6 1929.9 L775.6 1931.6 L771.6 1933.5 L767.6 1935.3 L763.5 1937.2 L759.5 1939.2 L755.5 1941.2 L751.5 1943.3 L747.5 1945.4 L743.4 1947.6 L739.4 1949.8 L735.4 1952.1 L731.4 1954.4 L727.4 1956.7 L723.3 1959.1 L719.3 1961.5 L715.3 1964.0 L711.3 1966.4 L707.3 1969.0 L703.2 1971.5 L699.2 1974.1 L695.2 1976.7Z" fill="#999" fill-opacity="0.4"/><path d="M695.2 1917.8L1012.8 1791.7" stroke="#3366FF" stroke-width="6.8" fill="none"/></g>
<text x="1019.6" y="1976.3" font-size="32.8" text-anchor="end" fill="#000">cor= 0.9 ; p−val= 0.08</text>
<rect x="680.5" y="1678.5" width="347.2" height="311.2" fill="none" stroke="#333" stroke-width="3"/>
<path d="M684.7 1991.0V2002.0M800.6 1991.0V2002.0M916.4 1991.0V2002.0M679.2 1741.9H668.1M679.2 1821.8H668.1M679.2 1901.0H668.1M679.2 1980.8H668.1" stroke="#333" stroke-width="4.6" fill="none"/>
<text x="684.4" y="2036.9" font-size="36" text-anchor="middle" fill="#4d4d4d">20</text>
<text x="800.3" y="2036.9" font-size="36" text-anchor="middle" fill="#4d4d4d">40</text>
<text x="916.1" y="2036.9" font-size="36" text-anchor="middle" fill="#4d4d4d">60</text>
<text x="659.2" y="1754.4" font-size="36" text-anchor="end" fill="#4d4d4d">0.0</text>
<text x="659.2" y="1834.3" font-size="36" text-anchor="end" fill="#4d4d4d">−0.3</text>
<text x="659.2" y="1913.5" font-size="36" text-anchor="end" fill="#4d4d4d">−0.6</text>
<text x="659.2" y="1993.3" font-size="36" text-anchor="end" fill="#4d4d4d">−0.9</text>
<text x="858.6" y="1658.1" font-size="42.0" text-anchor="middle" fill="#000">Docetaxel + Gefitinib</text>
<text x="856.6" y="2081" font-size="36" text-anchor="middle" fill="#000">Experimental Viability</text>
<clipPath id="c13"><rect x="1238.7" y="1678.5" width="326.9" height="311.2"/></clipPath>
<g clip-path="url(#c13)"><path d="M1294.6 1678.5V1989.7M1359.1 1678.5V1989.7M1423.8 1678.5V1989.7M1488.3 1678.5V1989.7M1553.0 1678.5V1989.7M1238.7 1697.8H1565.6M1238.7 1763.4H1565.6M1238.7 1828.7H1565.6M1238.7 1894.2H1565.6M1238.7 1960.0H1565.6" stroke="#ebebeb" stroke-width="2.2" fill="none"/><path d="M1262.5 1678.5V1989.7M1327.0 1678.5V1989.7M1391.7 1678.5V1989.7M1456.2 1678.5V1989.7M1520.9 1678.5V1989.7M1238.7 1730.4H1565.6M1238.7 1795.9H1565.6M1238.7 1861.7H1565.6M1238.7 1927.2H1565.6" stroke="#ebebeb" stroke-width="4.5" fill="none"/><circle cx="1252.2" cy="1845.3" r="7" fill="#00B0F6"/><circle cx="1269.8" cy="1922.6" r="7" fill="#A3A500"/><circle cx="1286.8" cy="1910.0" r="7" fill="#00BF7D"/><circle cx="1294.8" cy="1833.5" r="7" fill="#F8766D"/><circle cx="1551.3" cy="1833.1" r="7" fill="#E76BF3"/><path d="M1252.2 1802.8 L1256.0 1803.5 L1259.8 1804.1 L1263.6 1804.6 L1267.3 1805.1 L1271.1 1805.6 L1274.9 1806.0 L1278.7 1806.3 L1282.5 1806.6 L1286.3 1806.9 L1290.1 1807.1 L1293.8 1807.2 L1297.6 1807.2 L1301.4 1807.2 L1305.2 1807.2 L1309.0 1807.0 L1312.8 1806.8 L1316.6 1806.5 L1320.3 1806.2 L1324.1 1805.7 L1327.9 1805.2 L1331.7 1804.6 L1335.5 1804.0 L1339.3 1803.3 L1343.1 1802.4 L1346.9 1801.6 L1350.6 1800.6 L1354.4 1799.6 L1358.2 1798.5 L1362.0 1797.4 L1365.8 1796.1 L1369.6 1794.8 L1373.4 1793.5 L1377.1 1792.1 L1380.9 1790.6 L1384.7 1789.1 L1388.5 1787.5 L1392.3 1785.9 L1396.1 1784.2 L1399.9 1782.4 L1403.6 1780.7 L1407.4 1778.9 L1411.2 1777.0 L1415.0 1775.1 L1418.8 1773.1 L1422.6 1771.2 L1426.4 1769.2 L1430.1 1767.1 L1433.9 1765.0 L1437.7 1762.9 L1441.5 1760.8 L1445.3 1758.6 L1449.1 1756.5 L1452.9 1754.3 L1456.6 1752.0 L1460.4 1749.8 L1464.2 1747.5 L1468.0 1745.2 L1471.8 1742.9 L1475.6 1740.6 L1479.4 1738.2 L1483.2 1735.9 L1486.9 1733.5 L1490.7 1731.1 L1494.5 1728.7 L1498.3 1726.3 L1502.1 1723.8 L1505.9 1721.4 L1509.7 1719.0 L1513.4 1716.5 L1517.2 1714.0 L1521.0 1711.5 L1524.8 1709.0 L1528.6 1706.5 L1532.4 1704.0 L1536.2 1701.5 L1539.9 1699.0 L1543.7 1696.4 L1547.5 1693.9 L1551.3 1691.3 L1551.3 1976.2 L1547.5 1974.8 L1543.7 1973.5 L1539.9 1972.2 L1536.2 1970.9 L1532.4 1969.5 L1528.6 1968.2 L1524.8 1966.9 L1521.0 1965.7 L1517.2 1964.4 L1513.4 1963.1 L1509.7 1961.9 L1505.9 1960.6 L1502.1 1959.4 L1498.3 1958.2 L1494.5 1956.9 L1490.7 1955.7 L1486.9 1954.6 L1483.2 1953.4 L1479.4 1952.2 L1475.6 1951.1 L1471.8 1950.0 L1468.0 1948.9 L1464.2 1947.8 L1460.4 1946.7 L1456.6 1945.7 L1452.9 1944.7 L1449.1 1943.7 L1445.3 1942.7 L1441.5 1941.7 L1437.7 1940.8 L1433.9 1939.9 L1430.1 1939.1 L1426.4 1938.2 L1422.6 1937.4 L1418.8 1936.6 L1415.0 1935.9 L1411.2 1935.2 L1407.4 1934.6 L1403.6 1934.0 L1399.9 1933.4 L1396.1 1932.9 L1392.3 1932.4 L1388.5 1932.0 L1384.7 1931.6 L1380.9 1931.3 L1377.1 1931.0 L1373.4 1930.8 L1369.6 1930.6 L1365.8 1930.6 L1362.0 1930.5 L1358.2 1930.6 L1354.4 1930.7 L1350.6 1930.9 L1346.9 1931.2 L1343.1 1931.5 L1339.3 1931.9 L1335.5 1932.4 L1331.7 1932.9 L1327.9 1933.6 L1324.1 1934.3 L1320.3 1935.0 L1316.6 1935.9 L1312.8 1936.8 L1309.0 1937.8 L1305.2 1938.9 L1301.4 1940.0 L1297.6 1941.2 L1293.8 1942.5 L1290.1 1943.8 L1286.3 1945.2 L1282.5 1946.6 L1278.7 1948.1 L1274.9 1949.7 L1271.1 1951.3 L1267.3 1953.0 L1263.6 1954.7 L1259.8 1956.4 L1256.0 1958.2 L1252.2 1960.1Z" fill="#999" fill-opacity="0.4"/><path d="M1252.2 1881.5L1551.3 1833.8" stroke="#3366FF" stroke-width="6.8" fill="none"/></g>
<text x="1557.5" y="1979.2" font-size="32.8" text-anchor="end" fill="#000">cor= 0.7 ; p−val= 0.23</text>
<rect x="1238.7" y="1678.5" width="326.9" height="311.2" fill="none" stroke="#333" stroke-width="3"/>
<path d="M1262.5 1991.0V2002.0M1327.0 1991.0V2002.0M1391.7 1991.0V2002.0M1456.2 1991.0V2002.0M1520.9 1991.0V2002.0M1237.4 1730.4H1226.3M1237.4 1795.9H1226.3M1237.4 1861.7H1226.3M1237.4 1927.2H1226.3" stroke="#333" stroke-width="4.6" fill="none"/>
<text x="1262.2" y="2036.9" font-size="36" text-anchor="middle" fill="#4d4d4d">20</text>
<text x="1326.7" y="2036.9" font-size="36" text-anchor="middle" fill="#4d4d4d">30</text>
<text x="1391.4" y="2036.9" font-size="36" text-anchor="middle" fill="#4d4d4d">40</text>
<text x="1455.9" y="2036.9" font-size="36" text-anchor="middle" fill="#4d4d4d">50</text>
<text x="1520.6" y="2036.9" font-size="36" text-anchor="middle" fill="#4d4d4d">60</text>
<text x="1217.4" y="1742.9" font-size="36" text-anchor="end" fill="#4d4d4d">0.00</text>
<text x="1217.4" y="1808.4" font-size="36" text-anchor="end" fill="#4d4d4d">−0.25</text>
<text x="1217.4" y="1874.2" font-size="36" text-anchor="end" fill="#4d4d4d">−0.50</text>
<text x="1217.4" y="1939.7" font-size="36" text-anchor="end" fill="#4d4d4d">−0.75</text>
<text x="1421" y="1658.1" font-size="42.0" text-anchor="middle" fill="#000">Gefitinib + Epothilone-B</text>
<text x="1397.5" y="2081" font-size="36" text-anchor="middle" fill="#000">Experimental Viability</text>
<text transform="translate(25.5,241) rotate(-90)" font-size="36.3" text-anchor="middle" fill="#000">Predicted Response</text>
<text transform="translate(25.1,784.2) rotate(-90)" font-size="35.3" text-anchor="middle" fill="#000">Predicted Response</text>
<text transform="translate(35.4,1295.4) rotate(-90)" font-size="35.9" text-anchor="middle" fill="#000">Predicted Response</text>
<text transform="translate(35.4,1835) rotate(-90)" font-size="35.3" text-anchor="middle" fill="#000">Predicted Response</text>
<text x="1" y="30" font-size="42" fill="#000">A</text>
<text x="1" y="1093" font-size="42" fill="#000">B</text>
<text x="1815.3" y="653.4" font-size="44.8" fill="#000">patient</text>
<circle cx="1822.0" cy="702.1" r="7.2" fill="#F8766D"/>
<text x="1870.0" y="714.8" font-size="36" fill="#000">HN120</text>
<circle cx="1822.0" cy="753.6" r="7.2" fill="#A3A500"/>
<text x="1870.0" y="766.3" font-size="36" fill="#000">HN137</text>
<circle cx="1822.0" cy="805.2" r="7.2" fill="#00BF7D"/>
<text x="1870.0" y="817.9" font-size="36" fill="#000">HN148</text>
<circle cx="1822.0" cy="856.8" r="7.2" fill="#00B0F6"/>
<text x="1870.0" y="869.4" font-size="36" fill="#000">HN159</text>
<circle cx="1822.0" cy="908.3" r="7.2" fill="#E76BF3"/>
<text x="1870.0" y="921.0" font-size="36" fill="#000">HN160</text>
<text x="1825.7" y="1707.1" font-size="44.8" fill="#000">patient</text>
<circle cx="1832.4" cy="1755.8" r="7.2" fill="#F8766D"/>
<text x="1880.4" y="1768.5" font-size="36" fill="#000">HN120</text>
<circle cx="1832.4" cy="1807.3" r="7.2" fill="#A3A500"/>
<text x="1880.4" y="1820.0" font-size="36" fill="#000">HN137</text>
<circle cx="1832.4" cy="1858.9" r="7.2" fill="#00BF7D"/>
<text x="1880.4" y="1871.6" font-size="36" fill="#000">HN148</text>
<circle cx="1832.4" cy="1910.5" r="7.2" fill="#00B0F6"/>
<text x="1880.4" y="1923.2" font-size="36" fill="#000">HN159</text>
<circle cx="1832.4" cy="1962.0" r="7.2" fill="#E76BF3"/>
<text x="1880.4" y="1974.7" font-size="36" fill="#000">HN160</text>
</svg></body></html>
